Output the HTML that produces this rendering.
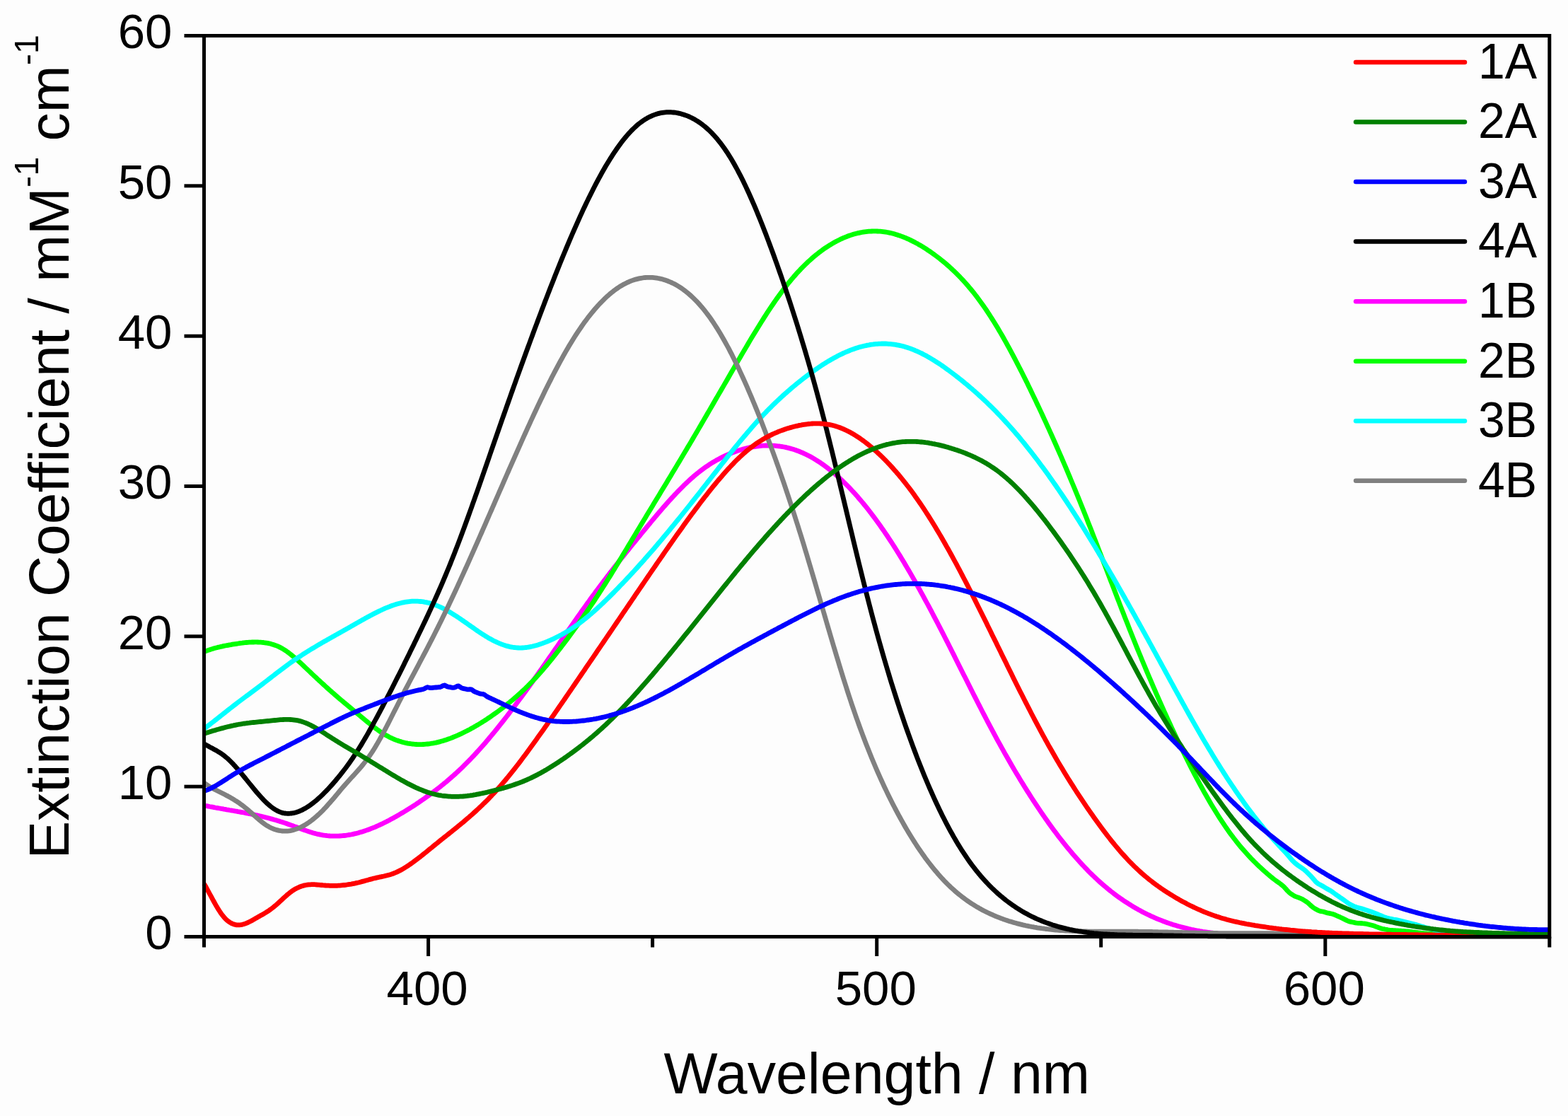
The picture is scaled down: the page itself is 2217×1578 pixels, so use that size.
<!DOCTYPE html>
<html lang="en"><head><meta charset="utf-8"><title>Extinction Coefficient vs Wavelength</title>
<style>html,body{margin:0;padding:0;background:#fdfdfd;}body{width:2217px;height:1578px;overflow:hidden;}svg{display:block;}text{font-family:"Liberation Sans",Arial,Helvetica,sans-serif;fill:#000;}</style></head><body>
<svg xmlns="http://www.w3.org/2000/svg" width="2217" height="1578" viewBox="0 0 2217 1578">
<rect width="2217" height="1578" fill="#fdfdfd"/>
<g fill="none" stroke-width="6.8" stroke-linejoin="round" stroke-linecap="butt">
<path d="M288.5,1138.8 290.5,1139.3 292.5,1139.7 294.5,1140.1 296.5,1140.5 298.5,1140.8 300.5,1141.2 302.5,1141.6 304.5,1142.0 306.5,1142.3 308.5,1142.7 310.5,1143.0 312.5,1143.4 314.5,1143.7 316.5,1144.1 318.5,1144.4 320.5,1144.8 322.5,1145.1 324.5,1145.5 326.5,1145.8 328.5,1146.2 330.5,1146.5 332.5,1146.9 334.5,1147.2 336.5,1147.6 338.5,1147.9 340.5,1148.3 342.5,1148.7 344.5,1149.0 346.5,1149.4 348.5,1149.8 350.5,1150.2 352.5,1150.6 354.5,1151.0 356.5,1151.4 358.5,1151.8 360.5,1152.2 362.5,1152.7 364.5,1153.1 366.5,1153.6 368.5,1154.0 370.5,1154.5 372.5,1155.0 374.5,1155.5 376.5,1156.0 378.5,1156.5 380.5,1157.0 382.5,1157.6 384.5,1158.1 386.5,1158.7 388.5,1159.3 390.5,1159.8 392.5,1160.4 394.5,1161.0 396.5,1161.7 398.5,1162.3 400.5,1162.9 402.5,1163.6 404.5,1164.3 406.5,1165.0 408.5,1165.7 410.5,1166.4 412.5,1167.1 414.5,1167.8 416.5,1168.6 418.5,1169.3 420.5,1170.0 422.5,1170.8 424.5,1171.5 426.5,1172.3 428.5,1173.0 430.5,1173.7 432.5,1174.4 434.5,1175.1 436.5,1175.8 438.5,1176.4 440.5,1177.1 442.5,1177.7 444.5,1178.2 446.5,1178.8 448.5,1179.3 450.5,1179.7 452.5,1180.1 454.5,1180.5 456.5,1180.9 458.5,1181.2 460.5,1181.4 462.5,1181.7 464.5,1181.8 466.5,1182.0 468.5,1182.1 470.5,1182.2 472.5,1182.2 474.5,1182.2 476.5,1182.2 478.5,1182.1 480.5,1182.0 482.5,1181.9 484.5,1181.7 486.5,1181.5 488.5,1181.3 490.5,1181.0 492.5,1180.7 494.5,1180.3 496.5,1180.0 498.5,1179.6 500.5,1179.1 502.5,1178.7 504.5,1178.2 506.5,1177.7 508.5,1177.1 510.5,1176.5 512.5,1175.9 514.5,1175.3 516.5,1174.6 518.5,1173.9 520.5,1173.2 522.5,1172.5 524.5,1171.7 526.5,1170.9 528.5,1170.1 530.5,1169.3 532.5,1168.4 534.5,1167.5 536.5,1166.6 538.5,1165.7 540.5,1164.8 542.5,1163.8 544.5,1162.8 546.5,1161.8 548.5,1160.7 550.5,1159.7 552.5,1158.6 554.5,1157.5 556.5,1156.4 558.5,1155.3 560.5,1154.2 562.5,1153.1 564.5,1151.9 566.5,1150.7 568.5,1149.5 570.5,1148.3 572.5,1147.1 574.5,1145.9 576.5,1144.6 578.5,1143.4 580.5,1142.1 582.5,1140.9 584.5,1139.6 586.5,1138.3 588.5,1137.0 590.5,1135.6 592.5,1134.3 594.5,1132.9 596.5,1131.5 598.5,1130.2 600.5,1128.8 602.5,1127.3 604.5,1125.9 606.5,1124.5 608.5,1123.0 610.5,1121.5 612.5,1120.0 614.5,1118.5 616.5,1117.0 618.5,1115.4 620.5,1113.9 622.5,1112.3 624.5,1110.7 626.5,1109.1 628.5,1107.4 630.5,1105.8 632.5,1104.1 634.5,1102.4 636.5,1100.7 638.5,1098.9 640.5,1097.2 642.5,1095.4 644.5,1093.6 646.5,1091.7 648.5,1089.9 650.5,1088.0 652.5,1086.1 654.5,1084.2 656.5,1082.2 658.5,1080.2 660.5,1078.2 662.5,1076.2 664.5,1074.1 666.5,1072.0 668.5,1069.9 670.5,1067.8 672.5,1065.6 674.5,1063.4 676.5,1061.2 678.5,1059.0 680.5,1056.8 682.5,1054.5 684.5,1052.2 686.5,1049.9 688.5,1047.6 690.5,1045.2 692.5,1042.8 694.5,1040.4 696.5,1038.0 698.5,1035.6 700.5,1033.1 702.5,1030.7 704.5,1028.2 706.5,1025.7 708.5,1023.2 710.5,1020.6 712.5,1018.1 714.5,1015.5 716.5,1013.0 718.5,1010.4 720.5,1007.8 722.5,1005.1 724.5,1002.5 726.5,999.8 728.5,997.2 730.5,994.5 732.5,991.8 734.5,989.1 736.5,986.4 738.5,983.7 740.5,981.0 742.5,978.2 744.5,975.5 746.5,972.7 748.5,969.9 750.5,967.2 752.5,964.4 754.5,961.6 756.5,958.8 758.5,956.0 760.5,953.1 762.5,950.3 764.5,947.5 766.5,944.6 768.5,941.8 770.5,938.9 772.5,936.1 774.5,933.2 776.5,930.3 778.5,927.5 780.5,924.6 782.5,921.7 784.5,918.8 786.5,916.0 788.5,913.1 790.5,910.2 792.5,907.3 794.5,904.4 796.5,901.5 798.5,898.6 800.5,895.8 802.5,892.9 804.5,890.0 806.5,887.1 808.5,884.3 810.5,881.4 812.5,878.5 814.5,875.7 816.5,872.8 818.5,870.0 820.5,867.2 822.5,864.3 824.5,861.5 826.5,858.7 828.5,855.9 830.5,853.1 832.5,850.4 834.5,847.6 836.5,844.8 838.5,842.1 840.5,839.4 842.5,836.6 844.5,833.9 846.5,831.2 848.5,828.6 850.5,825.9 852.5,823.2 854.5,820.6 856.5,818.0 858.5,815.3 860.5,812.7 862.5,810.1 864.5,807.5 866.5,805.0 868.5,802.4 870.5,799.8 872.5,797.3 874.5,794.7 876.5,792.2 878.5,789.7 880.5,787.2 882.5,784.6 884.5,782.1 886.5,779.6 888.5,777.2 890.5,774.7 892.5,772.2 894.5,769.7 896.5,767.3 898.5,764.8 900.5,762.4 902.5,759.9 904.5,757.5 906.5,755.0 908.5,752.6 910.5,750.1 912.5,747.7 914.5,745.3 916.5,742.9 918.5,740.5 920.5,738.0 922.5,735.6 924.5,733.3 926.5,730.9 928.5,728.5 930.5,726.1 932.5,723.8 934.5,721.5 936.5,719.1 938.5,716.8 940.5,714.6 942.5,712.3 944.5,710.0 946.5,707.8 948.5,705.6 950.5,703.4 952.5,701.3 954.5,699.1 956.5,697.0 958.5,694.9 960.5,692.8 962.5,690.8 964.5,688.8 966.5,686.8 968.5,684.9 970.5,683.0 972.5,681.1 974.5,679.2 976.5,677.4 978.5,675.7 980.5,673.9 982.5,672.2 984.5,670.5 986.5,668.9 988.5,667.3 990.5,665.8 992.5,664.3 994.5,662.8 996.5,661.3 998.5,659.9 1000.5,658.6 1002.5,657.2 1004.5,655.9 1006.5,654.7 1008.5,653.4 1010.5,652.3 1012.5,651.1 1014.5,650.0 1016.5,648.9 1018.5,647.8 1020.5,646.8 1022.5,645.8 1024.5,644.8 1026.5,643.9 1028.5,643.0 1030.5,642.1 1032.5,641.3 1034.5,640.5 1036.5,639.7 1038.5,639.0 1040.5,638.3 1042.5,637.6 1044.5,636.9 1046.5,636.3 1048.5,635.7 1050.5,635.1 1052.5,634.6 1054.5,634.1 1056.5,633.6 1058.5,633.1 1060.5,632.7 1062.5,632.3 1064.5,632.0 1066.5,631.6 1068.5,631.3 1070.5,631.0 1072.5,630.8 1074.5,630.6 1076.5,630.4 1078.5,630.2 1080.5,630.1 1082.5,630.0 1084.5,630.0 1086.5,630.0 1088.5,630.0 1090.5,630.0 1092.5,630.1 1094.5,630.2 1096.5,630.4 1098.5,630.6 1100.5,630.8 1102.5,631.0 1104.5,631.3 1106.5,631.7 1108.5,632.0 1110.5,632.4 1112.5,632.9 1114.5,633.3 1116.5,633.9 1118.5,634.4 1120.5,635.0 1122.5,635.6 1124.5,636.3 1126.5,637.0 1128.5,637.7 1130.5,638.5 1132.5,639.3 1134.5,640.2 1136.5,641.1 1138.5,642.0 1140.5,643.0 1142.5,644.0 1144.5,645.0 1146.5,646.1 1148.5,647.2 1150.5,648.4 1152.5,649.6 1154.5,650.8 1156.5,652.1 1158.5,653.4 1160.5,654.7 1162.5,656.1 1164.5,657.5 1166.5,659.0 1168.5,660.5 1170.5,662.0 1172.5,663.6 1174.5,665.2 1176.5,666.8 1178.5,668.5 1180.5,670.2 1182.5,671.9 1184.5,673.7 1186.5,675.5 1188.5,677.4 1190.5,679.3 1192.5,681.2 1194.5,683.1 1196.5,685.1 1198.5,687.2 1200.5,689.2 1202.5,691.3 1204.5,693.5 1206.5,695.6 1208.5,697.8 1210.5,700.1 1212.5,702.3 1214.5,704.7 1216.5,707.0 1218.5,709.4 1220.5,711.8 1222.5,714.2 1224.5,716.7 1226.5,719.2 1228.5,721.8 1230.5,724.3 1232.5,727.0 1234.5,729.6 1236.5,732.3 1238.5,735.0 1240.5,737.7 1242.5,740.5 1244.5,743.3 1246.5,746.2 1248.5,749.0 1250.5,751.9 1252.5,754.9 1254.5,757.8 1256.5,760.8 1258.5,763.9 1260.5,766.9 1262.5,770.0 1264.5,773.1 1266.5,776.3 1268.5,779.5 1270.5,782.7 1272.5,785.9 1274.5,789.2 1276.5,792.5 1278.5,795.8 1280.5,799.2 1282.5,802.6 1284.5,806.0 1286.5,809.4 1288.5,812.9 1290.5,816.4 1292.5,819.9 1294.5,823.4 1296.5,827.0 1298.5,830.5 1300.5,834.1 1302.5,837.8 1304.5,841.4 1306.5,845.1 1308.5,848.8 1310.5,852.5 1312.5,856.2 1314.5,859.9 1316.5,863.7 1318.5,867.5 1320.5,871.3 1322.5,875.1 1324.5,878.9 1326.5,882.8 1328.5,886.6 1330.5,890.5 1332.5,894.4 1334.5,898.3 1336.5,902.2 1338.5,906.1 1340.5,910.1 1342.5,914.0 1344.5,918.0 1346.5,922.0 1348.5,925.9 1350.5,929.9 1352.5,933.9 1354.5,937.9 1356.5,941.9 1358.5,945.9 1360.5,949.9 1362.5,953.9 1364.5,957.8 1366.5,961.8 1368.5,965.8 1370.5,969.8 1372.5,973.8 1374.5,977.7 1376.5,981.7 1378.5,985.6 1380.5,989.6 1382.5,993.5 1384.5,997.4 1386.5,1001.3 1388.5,1005.2 1390.5,1009.1 1392.5,1012.9 1394.5,1016.8 1396.5,1020.6 1398.5,1024.4 1400.5,1028.2 1402.5,1031.9 1404.5,1035.7 1406.5,1039.4 1408.5,1043.1 1410.5,1046.8 1412.5,1050.4 1414.5,1054.0 1416.5,1057.6 1418.5,1061.2 1420.5,1064.8 1422.5,1068.3 1424.5,1071.8 1426.5,1075.3 1428.5,1078.8 1430.5,1082.2 1432.5,1085.7 1434.5,1089.1 1436.5,1092.4 1438.5,1095.8 1440.5,1099.1 1442.5,1102.4 1444.5,1105.7 1446.5,1108.9 1448.5,1112.2 1450.5,1115.4 1452.5,1118.6 1454.5,1121.7 1456.5,1124.9 1458.5,1128.0 1460.5,1131.1 1462.5,1134.1 1464.5,1137.2 1466.5,1140.2 1468.5,1143.2 1470.5,1146.1 1472.5,1149.1 1474.5,1152.0 1476.5,1154.9 1478.5,1157.8 1480.5,1160.6 1482.5,1163.4 1484.5,1166.2 1486.5,1169.0 1488.5,1171.7 1490.5,1174.4 1492.5,1177.1 1494.5,1179.7 1496.5,1182.4 1498.5,1185.0 1500.5,1187.5 1502.5,1190.1 1504.5,1192.6 1506.5,1195.1 1508.5,1197.6 1510.5,1200.0 1512.5,1202.4 1514.5,1204.8 1516.5,1207.2 1518.5,1209.5 1520.5,1211.8 1522.5,1214.1 1524.5,1216.3 1526.5,1218.6 1528.5,1220.7 1530.5,1222.9 1532.5,1225.0 1534.5,1227.1 1536.5,1229.2 1538.5,1231.3 1540.5,1233.3 1542.5,1235.3 1544.5,1237.2 1546.5,1239.1 1548.5,1241.0 1550.5,1242.9 1552.5,1244.8 1554.5,1246.6 1556.5,1248.4 1558.5,1250.1 1560.5,1251.8 1562.5,1253.5 1564.5,1255.2 1566.5,1256.9 1568.5,1258.5 1570.5,1260.1 1572.5,1261.6 1574.5,1263.2 1576.5,1264.7 1578.5,1266.2 1580.5,1267.7 1582.5,1269.1 1584.5,1270.5 1586.5,1271.9 1588.5,1273.3 1590.5,1274.6 1592.5,1275.9 1594.5,1277.2 1596.5,1278.5 1598.5,1279.7 1600.5,1281.0 1602.5,1282.2 1604.5,1283.3 1606.5,1284.5 1608.5,1285.6 1610.5,1286.8 1612.5,1287.8 1614.5,1288.9 1616.5,1290.0 1618.5,1291.0 1620.5,1292.0 1622.5,1293.0 1624.5,1293.9 1626.5,1294.9 1628.5,1295.8 1630.5,1296.7 1632.5,1297.6 1634.5,1298.5 1636.5,1299.3 1638.5,1300.1 1640.5,1300.9 1642.5,1301.7 1644.5,1302.5 1646.5,1303.2 1648.5,1304.0 1650.5,1304.7 1652.5,1305.4 1654.5,1306.1 1656.5,1306.7 1658.5,1307.4 1660.5,1308.0 1662.5,1308.6 1664.5,1309.2 1666.5,1309.8 1668.5,1310.3 1670.5,1310.9 1672.5,1311.4 1674.5,1311.9 1676.5,1312.4 1678.5,1312.9 1680.5,1313.4 1682.5,1313.8 1684.5,1314.3 1686.5,1314.7 1688.5,1315.1 1690.5,1315.5 1692.5,1315.9 1694.5,1316.2 1696.5,1316.6 1698.5,1316.9 1700.5,1317.3 1702.5,1317.6 1704.5,1317.9 1706.5,1318.2 1708.5,1318.5 1710.5,1318.7 1712.5,1319.0 1714.5,1319.2 1716.5,1319.5 1718.5,1319.7 1720.5,1319.9 1722.5,1320.1 1724.5,1320.3 1726.5,1320.5 1728.5,1320.7 1730.5,1320.9 1732.5,1321.0 1734.5,1321.2 1736.5,1321.3 1738.5,1321.5 1740.5,1321.6 1742.5,1321.7 1744.5,1321.9 1746.5,1322.0 1748.5,1322.1 1750.5,1322.2 1752.5,1322.3 1754.5,1322.4 1756.5,1322.5 1758.5,1322.5 1760.5,1322.6 1762.5,1322.7 1764.5,1322.8 1766.5,1322.8 1768.5,1322.9 1770.5,1322.9 1772.5,1323.0 1774.5,1323.0 1776.5,1323.1 1778.5,1323.1 1780.5,1323.1 1782.5,1323.2 1784.5,1323.2 1786.5,1323.2 1788.5,1323.3 1790.5,1323.3 1792.5,1323.3 1794.5,1323.3 1796.5,1323.3 1798.5,1323.3 1800.5,1323.4 1802.5,1323.4 1804.5,1323.4 1806.5,1323.4 1808.5,1323.4 1810.5,1323.4 1812.5,1323.4 1814.5,1323.4 1816.5,1323.4 1818.5,1323.4 1820.5,1323.4 1822.5,1323.4 1824.5,1323.4 1826.5,1323.4 1828.5,1323.4 1830.5,1323.4 1832.5,1323.4 1834.5,1323.4 1836.5,1323.4 1838.5,1323.4 1840.5,1323.4 1842.5,1323.4 1844.5,1323.4 1846.5,1323.4 1848.5,1323.4 1850.5,1323.4 1852.5,1323.4 1854.5,1323.4 1856.5,1323.4 1858.5,1323.4 1860.5,1323.4 1862.5,1323.4 1864.5,1323.4 1866.5,1323.3 1868.5,1323.3 1870.5,1323.3 1872.5,1323.3 1874.5,1323.3 1876.5,1323.3 1878.5,1323.3 1880.5,1323.3 1882.5,1323.3 1884.5,1323.3 1886.5,1323.3 1888.5,1323.3 1890.5,1323.3 1892.5,1323.3 1894.5,1323.3 1896.5,1323.3 1898.5,1323.3 1900.5,1323.3 1902.5,1323.3 1904.5,1323.3 1906.5,1323.3 1908.5,1323.3 1910.5,1323.3 1912.5,1323.3 1914.5,1323.3 1916.5,1323.3 1918.5,1323.3 1920.5,1323.3 1922.5,1323.3 1924.5,1323.3 1926.5,1323.3 1928.5,1323.3 1930.5,1323.3 1932.5,1323.3 1934.5,1323.3 1936.5,1323.3 1938.5,1323.3 1940.5,1323.3 1942.5,1323.3 1944.5,1323.3 1946.5,1323.3 1948.5,1323.3 1950.5,1323.3 1952.5,1323.3 1954.5,1323.4 1956.5,1323.4 1958.5,1323.4 1960.5,1323.4 1962.5,1323.4 1964.5,1323.4 1966.5,1323.4 1968.5,1323.4 1970.5,1323.4 1972.5,1323.4 1974.5,1323.4 1976.5,1323.4 1978.5,1323.4 1980.5,1323.4 1982.5,1323.4 1984.5,1323.4 1986.5,1323.4 1988.5,1323.4 1990.5,1323.4 1992.5,1323.4 1994.5,1323.4 1996.5,1323.3 1998.5,1323.3 2000.5,1323.3 2002.5,1323.3 2004.5,1323.3 2006.5,1323.3 2008.5,1323.3 2010.5,1323.3 2012.5,1323.3 2014.5,1323.3 2016.5,1323.3 2018.5,1323.3 2020.5,1323.3 2022.5,1323.3 2024.5,1323.3 2026.5,1323.3 2028.5,1323.3 2030.5,1323.3 2032.5,1323.3 2034.5,1323.3 2036.5,1323.3 2038.5,1323.3 2040.5,1323.3 2042.5,1323.3 2044.5,1323.3 2046.5,1323.3 2048.5,1323.3 2050.5,1323.3 2052.5,1323.3 2054.5,1323.3 2056.5,1323.3 2058.5,1323.3 2060.5,1323.3 2062.5,1323.3 2064.5,1323.3 2066.5,1323.3 2068.5,1323.3 2070.5,1323.3 2072.5,1323.3 2074.5,1323.3 2076.5,1323.3 2078.5,1323.3 2080.5,1323.3 2082.5,1323.3 2084.5,1323.3 2086.5,1323.3 2088.5,1323.3 2090.5,1323.3 2092.5,1323.3 2094.5,1323.3 2096.5,1323.3 2098.5,1323.3 2100.5,1323.3 2102.5,1323.3 2104.5,1323.3 2106.5,1323.3 2108.5,1323.3 2110.5,1323.3 2112.5,1323.3 2114.5,1323.3 2116.5,1323.3 2118.5,1323.3 2120.5,1323.3 2122.5,1323.3 2124.5,1323.3 2126.5,1323.3 2128.5,1323.3 2130.5,1323.3 2132.5,1323.3 2134.5,1323.3 2136.5,1323.3 2138.5,1323.3 2140.5,1323.3 2142.5,1323.3 2144.5,1323.3 2146.5,1323.3 2148.5,1323.3 2150.5,1323.3 2152.5,1323.3 2154.5,1323.3 2156.5,1323.3 2158.5,1323.3 2160.5,1323.3 2162.5,1323.3 2164.5,1323.3 2166.5,1323.3 2168.5,1323.3 2170.5,1323.3 2172.5,1323.3 2174.5,1323.3 2176.5,1323.3 2178.5,1323.3 2180.5,1323.3 2182.5,1323.3 2184.5,1323.3 2186.5,1323.3 2188.5,1323.3 2190.5,1323.3" stroke="#ff00ff"/>
<path d="M288.5,921.7 290.5,920.9 292.5,920.1 294.5,919.4 296.5,918.7 298.5,918.1 300.5,917.4 302.5,916.8 304.5,916.3 306.5,915.8 308.5,915.2 310.5,914.8 312.5,914.3 314.5,913.9 316.5,913.4 318.5,913.0 320.5,912.7 322.5,912.3 324.5,911.9 326.5,911.6 328.5,911.2 330.5,910.9 332.5,910.6 334.5,910.3 336.5,910.0 338.5,909.7 340.5,909.4 342.5,909.2 344.5,908.9 346.5,908.7 348.5,908.5 350.5,908.4 352.5,908.2 354.5,908.1 356.5,908.0 358.5,908.0 360.5,907.9 362.5,907.9 364.5,908.0 366.5,908.1 368.5,908.2 370.5,908.3 372.5,908.5 374.5,908.8 376.5,909.1 378.5,909.4 380.5,909.8 382.5,910.3 384.5,910.9 386.5,911.5 388.5,912.2 390.5,912.9 392.5,913.7 394.5,914.6 396.5,915.6 398.5,916.7 400.5,917.9 402.5,919.1 404.5,920.4 406.5,921.9 408.5,923.3 410.5,924.9 412.5,926.5 414.5,928.1 416.5,929.8 418.5,931.6 420.5,933.3 422.5,935.2 424.5,937.0 426.5,938.9 428.5,940.8 430.5,942.7 432.5,944.6 434.5,946.5 436.5,948.4 438.5,950.3 440.5,952.2 442.5,954.1 444.5,956.0 446.5,957.8 448.5,959.7 450.5,961.6 452.5,963.4 454.5,965.3 456.5,967.1 458.5,968.9 460.5,970.8 462.5,972.6 464.5,974.4 466.5,976.2 468.5,977.9 470.5,979.7 472.5,981.4 474.5,983.2 476.5,984.9 478.5,986.6 480.5,988.3 482.5,990.0 484.5,991.7 486.5,993.4 488.5,995.0 490.5,996.7 492.5,998.4 494.5,1000.0 496.5,1001.7 498.5,1003.3 500.5,1005.0 502.5,1006.7 504.5,1008.3 506.5,1010.0 508.5,1011.7 510.5,1013.3 512.5,1015.0 514.5,1016.7 516.5,1018.3 518.5,1020.0 520.5,1021.6 522.5,1023.2 524.5,1024.8 526.5,1026.4 528.5,1027.9 530.5,1029.5 532.5,1030.9 534.5,1032.4 536.5,1033.8 538.5,1035.1 540.5,1036.4 542.5,1037.7 544.5,1038.9 546.5,1040.0 548.5,1041.1 550.5,1042.2 552.5,1043.2 554.5,1044.1 556.5,1045.0 558.5,1045.8 560.5,1046.6 562.5,1047.3 564.5,1048.0 566.5,1048.6 568.5,1049.2 570.5,1049.7 572.5,1050.2 574.5,1050.7 576.5,1051.1 578.5,1051.4 580.5,1051.7 582.5,1052.0 584.5,1052.2 586.5,1052.4 588.5,1052.5 590.5,1052.6 592.5,1052.6 594.5,1052.6 596.5,1052.6 598.5,1052.5 600.5,1052.4 602.5,1052.2 604.5,1052.0 606.5,1051.8 608.5,1051.5 610.5,1051.2 612.5,1050.9 614.5,1050.5 616.5,1050.1 618.5,1049.6 620.5,1049.1 622.5,1048.6 624.5,1048.0 626.5,1047.5 628.5,1046.8 630.5,1046.2 632.5,1045.5 634.5,1044.8 636.5,1044.1 638.5,1043.3 640.5,1042.5 642.5,1041.7 644.5,1040.9 646.5,1040.0 648.5,1039.1 650.5,1038.2 652.5,1037.3 654.5,1036.3 656.5,1035.3 658.5,1034.3 660.5,1033.3 662.5,1032.2 664.5,1031.2 666.5,1030.1 668.5,1029.0 670.5,1027.8 672.5,1026.7 674.5,1025.5 676.5,1024.3 678.5,1023.1 680.5,1021.9 682.5,1020.6 684.5,1019.4 686.5,1018.1 688.5,1016.8 690.5,1015.4 692.5,1014.1 694.5,1012.7 696.5,1011.3 698.5,1009.9 700.5,1008.5 702.5,1007.1 704.5,1005.6 706.5,1004.1 708.5,1002.6 710.5,1001.1 712.5,999.5 714.5,997.9 716.5,996.4 718.5,994.7 720.5,993.1 722.5,991.4 724.5,989.8 726.5,988.1 728.5,986.3 730.5,984.6 732.5,982.8 734.5,981.0 736.5,979.2 738.5,977.3 740.5,975.5 742.5,973.6 744.5,971.6 746.5,969.7 748.5,967.7 750.5,965.6 752.5,963.6 754.5,961.5 756.5,959.4 758.5,957.2 760.5,955.0 762.5,952.8 764.5,950.5 766.5,948.3 768.5,945.9 770.5,943.6 772.5,941.2 774.5,938.8 776.5,936.4 778.5,933.9 780.5,931.5 782.5,929.0 784.5,926.4 786.5,923.9 788.5,921.3 790.5,918.7 792.5,916.1 794.5,913.5 796.5,910.9 798.5,908.2 800.5,905.6 802.5,902.9 804.5,900.2 806.5,897.5 808.5,894.8 810.5,892.0 812.5,889.3 814.5,886.5 816.5,883.7 818.5,880.9 820.5,878.1 822.5,875.3 824.5,872.4 826.5,869.5 828.5,866.7 830.5,863.8 832.5,860.8 834.5,857.9 836.5,854.9 838.5,852.0 840.5,849.0 842.5,845.9 844.5,842.9 846.5,839.8 848.5,836.7 850.5,833.6 852.5,830.5 854.5,827.4 856.5,824.2 858.5,821.0 860.5,817.8 862.5,814.6 864.5,811.4 866.5,808.1 868.5,804.9 870.5,801.6 872.5,798.3 874.5,795.0 876.5,791.7 878.5,788.4 880.5,785.1 882.5,781.8 884.5,778.5 886.5,775.2 888.5,771.8 890.5,768.5 892.5,765.2 894.5,761.8 896.5,758.5 898.5,755.1 900.5,751.8 902.5,748.5 904.5,745.1 906.5,741.8 908.5,738.5 910.5,735.2 912.5,731.9 914.5,728.6 916.5,725.3 918.5,722.0 920.5,718.7 922.5,715.4 924.5,712.1 926.5,708.8 928.5,705.5 930.5,702.2 932.5,698.9 934.5,695.6 936.5,692.3 938.5,689.0 940.5,685.7 942.5,682.4 944.5,679.0 946.5,675.7 948.5,672.4 950.5,669.1 952.5,665.8 954.5,662.5 956.5,659.1 958.5,655.8 960.5,652.5 962.5,649.1 964.5,645.8 966.5,642.4 968.5,639.1 970.5,635.7 972.5,632.3 974.5,629.0 976.5,625.6 978.5,622.2 980.5,618.8 982.5,615.4 984.5,612.0 986.5,608.6 988.5,605.1 990.5,601.7 992.5,598.3 994.5,594.9 996.5,591.4 998.5,588.0 1000.5,584.5 1002.5,581.1 1004.5,577.6 1006.5,574.2 1008.5,570.7 1010.5,567.3 1012.5,563.8 1014.5,560.4 1016.5,556.9 1018.5,553.5 1020.5,550.0 1022.5,546.6 1024.5,543.1 1026.5,539.7 1028.5,536.2 1030.5,532.7 1032.5,529.3 1034.5,525.8 1036.5,522.4 1038.5,519.0 1040.5,515.5 1042.5,512.1 1044.5,508.6 1046.5,505.2 1048.5,501.8 1050.5,498.4 1052.5,495.0 1054.5,491.6 1056.5,488.2 1058.5,484.8 1060.5,481.4 1062.5,478.1 1064.5,474.8 1066.5,471.5 1068.5,468.2 1070.5,464.9 1072.5,461.7 1074.5,458.4 1076.5,455.2 1078.5,452.1 1080.5,448.9 1082.5,445.8 1084.5,442.7 1086.5,439.7 1088.5,436.6 1090.5,433.6 1092.5,430.7 1094.5,427.8 1096.5,424.9 1098.5,422.0 1100.5,419.2 1102.5,416.4 1104.5,413.7 1106.5,411.0 1108.5,408.4 1110.5,405.8 1112.5,403.2 1114.5,400.7 1116.5,398.3 1118.5,395.8 1120.5,393.5 1122.5,391.1 1124.5,388.9 1126.5,386.6 1128.5,384.4 1130.5,382.3 1132.5,380.2 1134.5,378.1 1136.5,376.1 1138.5,374.1 1140.5,372.2 1142.5,370.3 1144.5,368.5 1146.5,366.7 1148.5,364.9 1150.5,363.2 1152.5,361.5 1154.5,359.9 1156.5,358.3 1158.5,356.7 1160.5,355.2 1162.5,353.8 1164.5,352.3 1166.5,350.9 1168.5,349.6 1170.5,348.3 1172.5,347.0 1174.5,345.8 1176.5,344.6 1178.5,343.4 1180.5,342.3 1182.5,341.2 1184.5,340.2 1186.5,339.2 1188.5,338.2 1190.5,337.3 1192.5,336.4 1194.5,335.6 1196.5,334.8 1198.5,334.0 1200.5,333.3 1202.5,332.6 1204.5,331.9 1206.5,331.3 1208.5,330.7 1210.5,330.2 1212.5,329.7 1214.5,329.3 1216.5,328.9 1218.5,328.5 1220.5,328.1 1222.5,327.8 1224.5,327.6 1226.5,327.4 1228.5,327.2 1230.5,327.1 1232.5,327.0 1234.5,326.9 1236.5,326.9 1238.5,326.9 1240.5,327.0 1242.5,327.1 1244.5,327.2 1246.5,327.4 1248.5,327.6 1250.5,327.9 1252.5,328.2 1254.5,328.5 1256.5,328.9 1258.5,329.3 1260.5,329.8 1262.5,330.3 1264.5,330.8 1266.5,331.4 1268.5,332.0 1270.5,332.7 1272.5,333.3 1274.5,334.1 1276.5,334.8 1278.5,335.6 1280.5,336.4 1282.5,337.3 1284.5,338.2 1286.5,339.1 1288.5,340.1 1290.5,341.1 1292.5,342.1 1294.5,343.2 1296.5,344.2 1298.5,345.4 1300.5,346.5 1302.5,347.7 1304.5,348.9 1306.5,350.2 1308.5,351.4 1310.5,352.7 1312.5,354.1 1314.5,355.4 1316.5,356.8 1318.5,358.2 1320.5,359.6 1322.5,361.1 1324.5,362.6 1326.5,364.1 1328.5,365.7 1330.5,367.3 1332.5,368.9 1334.5,370.5 1336.5,372.2 1338.5,373.9 1340.5,375.7 1342.5,377.4 1344.5,379.3 1346.5,381.1 1348.5,383.0 1350.5,384.9 1352.5,386.9 1354.5,388.9 1356.5,390.9 1358.5,393.0 1360.5,395.1 1362.5,397.3 1364.5,399.5 1366.5,401.8 1368.5,404.1 1370.5,406.4 1372.5,408.8 1374.5,411.2 1376.5,413.7 1378.5,416.3 1380.5,418.8 1382.5,421.5 1384.5,424.2 1386.5,426.9 1388.5,429.7 1390.5,432.5 1392.5,435.4 1394.5,438.3 1396.5,441.3 1398.5,444.4 1400.5,447.5 1402.5,450.6 1404.5,453.8 1406.5,457.0 1408.5,460.3 1410.5,463.6 1412.5,467.0 1414.5,470.4 1416.5,473.8 1418.5,477.3 1420.5,480.9 1422.5,484.4 1424.5,488.1 1426.5,491.7 1428.5,495.4 1430.5,499.1 1432.5,502.9 1434.5,506.7 1436.5,510.5 1438.5,514.3 1440.5,518.2 1442.5,522.1 1444.5,526.1 1446.5,530.0 1448.5,534.0 1450.5,538.1 1452.5,542.1 1454.5,546.2 1456.5,550.3 1458.5,554.4 1460.5,558.6 1462.5,562.7 1464.5,566.9 1466.5,571.2 1468.5,575.4 1470.5,579.6 1472.5,583.9 1474.5,588.2 1476.5,592.6 1478.5,596.9 1480.5,601.3 1482.5,605.7 1484.5,610.1 1486.5,614.5 1488.5,619.0 1490.5,623.5 1492.5,628.0 1494.5,632.5 1496.5,637.1 1498.5,641.6 1500.5,646.2 1502.5,650.9 1504.5,655.5 1506.5,660.2 1508.5,664.9 1510.5,669.6 1512.5,674.4 1514.5,679.2 1516.5,684.0 1518.5,688.8 1520.5,693.6 1522.5,698.5 1524.5,703.4 1526.5,708.3 1528.5,713.3 1530.5,718.3 1532.5,723.3 1534.5,728.3 1536.5,733.3 1538.5,738.4 1540.5,743.5 1542.5,748.6 1544.5,753.7 1546.5,758.9 1548.5,764.0 1550.5,769.2 1552.5,774.4 1554.5,779.6 1556.5,784.8 1558.5,790.0 1560.5,795.2 1562.5,800.4 1564.5,805.6 1566.5,810.8 1568.5,816.0 1570.5,821.2 1572.5,826.4 1574.5,831.6 1576.5,836.8 1578.5,842.0 1580.5,847.2 1582.5,852.4 1584.5,857.6 1586.5,862.7 1588.5,867.8 1590.5,873.0 1592.5,878.1 1594.5,883.1 1596.5,888.2 1598.5,893.2 1600.5,898.3 1602.5,903.2 1604.5,908.2 1606.5,913.2 1608.5,918.1 1610.5,923.0 1612.5,927.8 1614.5,932.7 1616.5,937.5 1618.5,942.3 1620.5,947.1 1622.5,951.8 1624.5,956.6 1626.5,961.2 1628.5,965.9 1630.5,970.6 1632.5,975.2 1634.5,979.8 1636.5,984.4 1638.5,988.9 1640.5,993.4 1642.5,997.9 1644.5,1002.4 1646.5,1006.8 1648.5,1011.2 1650.5,1015.6 1652.5,1020.0 1654.5,1024.3 1656.5,1028.6 1658.5,1032.9 1660.5,1037.2 1662.5,1041.4 1664.5,1045.6 1666.5,1049.8 1668.5,1053.9 1670.5,1058.1 1672.5,1062.1 1674.5,1066.2 1676.5,1070.2 1678.5,1074.3 1680.5,1078.2 1682.5,1082.2 1684.5,1086.1 1686.5,1090.0 1688.5,1093.8 1690.5,1097.6 1692.5,1101.4 1694.5,1105.2 1696.5,1108.9 1698.5,1112.5 1700.5,1116.2 1702.5,1119.8 1704.5,1123.3 1706.5,1126.8 1708.5,1130.3 1710.5,1133.8 1712.5,1137.2 1714.5,1140.5 1716.5,1143.8 1718.5,1147.1 1720.5,1150.3 1722.5,1153.5 1724.5,1156.6 1726.5,1159.7 1728.5,1162.7 1730.5,1165.7 1732.5,1168.6 1734.5,1171.5 1736.5,1174.4 1738.5,1177.2 1740.5,1179.9 1742.5,1182.6 1744.5,1185.2 1746.5,1187.8 1748.5,1190.3 1750.5,1192.8 1752.5,1195.3 1754.5,1197.7 1756.5,1200.0 1758.5,1202.3 1760.5,1204.6 1762.5,1206.8 1764.5,1209.0 1766.5,1211.2 1768.5,1213.3 1770.5,1215.3 1772.5,1217.4 1774.5,1219.4 1776.5,1221.3 1778.5,1223.3 1780.5,1225.2 1782.5,1227.0 1784.5,1228.9 1786.5,1230.7 1788.5,1232.5 1790.5,1234.2 1792.5,1236.0 1794.5,1237.7 1796.5,1239.4 1798.5,1241.0 1800.5,1242.6 1802.5,1244.1 1804.5,1245.6 1806.5,1247.0 1808.5,1248.4 1810.5,1249.9 1812.5,1251.5 1814.5,1253.2 1816.5,1255.2 1818.5,1257.4 1820.5,1259.7 1822.5,1261.7 1824.5,1263.3 1826.5,1264.6 1828.5,1265.9 1830.5,1267.1 1832.5,1267.9 1834.5,1268.6 1836.5,1269.3 1838.5,1270.1 1840.5,1271.0 1842.5,1272.1 1844.5,1273.3 1846.5,1274.6 1848.5,1276.0 1850.5,1277.7 1852.5,1279.6 1854.5,1281.4 1856.5,1283.0 1858.5,1284.3 1860.5,1285.5 1862.5,1286.7 1864.5,1287.6 1866.5,1288.3 1868.5,1288.7 1870.5,1289.0 1872.5,1289.6 1874.5,1290.2 1876.5,1290.8 1878.5,1291.2 1880.5,1291.6 1882.5,1292.0 1884.5,1292.5 1886.5,1293.2 1888.5,1294.1 1890.5,1295.0 1892.5,1295.8 1894.5,1296.7 1896.5,1297.7 1898.5,1298.6 1900.5,1299.6 1902.5,1300.6 1904.5,1301.6 1906.5,1302.5 1908.5,1303.2 1910.5,1303.6 1912.5,1304.0 1914.5,1304.4 1916.5,1304.8 1918.5,1305.1 1920.5,1305.3 1922.5,1305.4 1924.5,1305.5 1926.5,1305.7 1928.5,1305.8 1930.5,1306.1 1932.5,1306.5 1934.5,1307.0 1936.5,1307.5 1938.5,1308.0 1940.5,1308.5 1942.5,1309.1 1944.5,1309.8 1946.5,1310.6 1948.5,1311.3 1950.5,1312.1 1952.5,1312.7 1954.5,1313.3 1956.5,1313.7 1958.5,1314.1 1960.5,1314.4 1962.5,1314.8 1964.5,1315.1 1966.5,1315.3 1968.5,1315.4 1970.5,1315.6 1972.5,1315.7 1974.5,1315.8 1976.5,1315.9 1978.5,1316.1 1980.5,1316.2 1982.5,1316.3 1984.5,1316.4 1986.5,1316.6 1988.5,1316.8 1990.5,1317.0 1992.5,1317.2 1994.5,1317.5 1996.5,1317.7 1998.5,1318.0 2000.5,1318.2 2002.5,1318.5 2004.5,1318.7 2006.5,1319.0 2008.5,1319.2 2010.5,1319.4 2012.5,1319.6 2014.5,1319.8 2016.5,1319.9 2018.5,1320.1 2020.5,1320.2 2022.5,1320.4 2024.5,1320.5 2026.5,1320.7 2028.5,1320.8 2030.5,1320.9 2032.5,1321.0 2034.5,1321.1 2036.5,1321.2 2038.5,1321.3 2040.5,1321.4 2042.5,1321.4 2044.5,1321.5 2046.5,1321.6 2048.5,1321.7 2050.5,1321.7 2052.5,1321.8 2054.5,1321.8 2056.5,1321.9 2058.5,1321.9 2060.5,1322.0 2062.5,1322.0 2064.5,1322.1 2066.5,1322.1 2068.5,1322.1 2070.5,1322.2 2072.5,1322.2 2074.5,1322.2 2076.5,1322.3 2078.5,1322.3 2080.5,1322.3 2082.5,1322.4 2084.5,1322.4 2086.5,1322.4 2088.5,1322.5 2090.5,1322.5 2092.5,1322.5 2094.5,1322.6 2096.5,1322.6 2098.5,1322.6 2100.5,1322.7 2102.5,1322.7 2104.5,1322.7 2106.5,1322.8 2108.5,1322.8 2110.5,1322.9 2112.5,1322.9 2114.5,1322.9 2116.5,1323.0 2118.5,1323.0 2120.5,1323.0 2122.5,1323.1 2124.5,1323.1 2126.5,1323.1 2128.5,1323.2 2130.5,1323.2 2132.5,1323.2 2134.5,1323.3 2136.5,1323.3 2138.5,1323.3 2140.5,1323.4 2142.5,1323.4 2144.5,1323.4 2146.5,1323.4 2148.5,1323.5 2150.5,1323.5 2152.5,1323.5 2154.5,1323.5 2156.5,1323.5 2158.5,1323.5 2160.5,1323.5 2162.5,1323.5 2164.5,1323.5 2166.5,1323.5 2168.5,1323.5 2170.5,1323.5 2172.5,1323.5 2174.5,1323.5 2176.5,1323.5 2178.5,1323.5 2180.5,1323.5 2182.5,1323.4 2184.5,1323.4 2186.5,1323.4 2188.5,1323.3 2190.5,1323.3" stroke="#00ff00"/>
<path d="M288.5,1030.5 290.5,1029.0 292.5,1027.5 294.5,1026.0 296.5,1024.5 298.5,1022.9 300.5,1021.4 302.5,1019.8 304.5,1018.2 306.5,1016.7 308.5,1015.1 310.5,1013.5 312.5,1011.9 314.5,1010.3 316.5,1008.7 318.5,1007.2 320.5,1005.6 322.5,1004.0 324.5,1002.4 326.5,1000.9 328.5,999.3 330.5,997.7 332.5,996.2 334.5,994.7 336.5,993.1 338.5,991.6 340.5,990.1 342.5,988.6 344.5,987.1 346.5,985.6 348.5,984.1 350.5,982.7 352.5,981.2 354.5,979.7 356.5,978.2 358.5,976.7 360.5,975.2 362.5,973.7 364.5,972.2 366.5,970.7 368.5,969.2 370.5,967.7 372.5,966.2 374.5,964.6 376.5,963.1 378.5,961.6 380.5,960.0 382.5,958.5 384.5,956.9 386.5,955.4 388.5,953.8 390.5,952.3 392.5,950.7 394.5,949.2 396.5,947.7 398.5,946.2 400.5,944.7 402.5,943.2 404.5,941.7 406.5,940.2 408.5,938.8 410.5,937.3 412.5,935.9 414.5,934.5 416.5,933.1 418.5,931.8 420.5,930.4 422.5,929.1 424.5,927.8 426.5,926.5 428.5,925.2 430.5,923.9 432.5,922.6 434.5,921.4 436.5,920.1 438.5,918.9 440.5,917.7 442.5,916.5 444.5,915.3 446.5,914.1 448.5,912.9 450.5,911.7 452.5,910.6 454.5,909.4 456.5,908.2 458.5,907.1 460.5,906.0 462.5,904.8 464.5,903.7 466.5,902.6 468.5,901.4 470.5,900.3 472.5,899.2 474.5,898.1 476.5,896.9 478.5,895.8 480.5,894.7 482.5,893.6 484.5,892.4 486.5,891.3 488.5,890.2 490.5,889.1 492.5,887.9 494.5,886.8 496.5,885.6 498.5,884.5 500.5,883.3 502.5,882.2 504.5,881.1 506.5,879.9 508.5,878.8 510.5,877.7 512.5,876.5 514.5,875.4 516.5,874.3 518.5,873.2 520.5,872.1 522.5,871.1 524.5,870.0 526.5,868.9 528.5,867.9 530.5,866.9 532.5,865.9 534.5,864.9 536.5,863.9 538.5,863.0 540.5,862.0 542.5,861.1 544.5,860.2 546.5,859.4 548.5,858.6 550.5,857.8 552.5,857.0 554.5,856.3 556.5,855.6 558.5,854.9 560.5,854.3 562.5,853.7 564.5,853.2 566.5,852.7 568.5,852.2 570.5,851.8 572.5,851.4 574.5,851.1 576.5,850.8 578.5,850.6 580.5,850.4 582.5,850.2 584.5,850.1 586.5,850.1 588.5,850.1 590.5,850.2 592.5,850.3 594.5,850.5 596.5,850.7 598.5,850.9 600.5,851.3 602.5,851.6 604.5,852.1 606.5,852.5 608.5,853.1 610.5,853.7 612.5,854.3 614.5,855.0 616.5,855.8 618.5,856.6 620.5,857.5 622.5,858.4 624.5,859.3 626.5,860.3 628.5,861.3 630.5,862.4 632.5,863.5 634.5,864.7 636.5,865.8 638.5,867.1 640.5,868.3 642.5,869.6 644.5,870.8 646.5,872.2 648.5,873.5 650.5,874.8 652.5,876.2 654.5,877.6 656.5,879.0 658.5,880.4 660.5,881.8 662.5,883.2 664.5,884.6 666.5,886.0 668.5,887.4 670.5,888.8 672.5,890.2 674.5,891.6 676.5,893.0 678.5,894.3 680.5,895.7 682.5,897.0 684.5,898.2 686.5,899.5 688.5,900.7 690.5,901.9 692.5,903.0 694.5,904.1 696.5,905.2 698.5,906.2 700.5,907.2 702.5,908.1 704.5,909.0 706.5,909.9 708.5,910.7 710.5,911.4 712.5,912.1 714.5,912.8 716.5,913.4 718.5,913.9 720.5,914.4 722.5,914.8 724.5,915.2 726.5,915.5 728.5,915.7 730.5,915.9 732.5,916.0 734.5,916.1 736.5,916.1 738.5,916.0 740.5,915.9 742.5,915.7 744.5,915.5 746.5,915.2 748.5,914.8 750.5,914.4 752.5,914.0 754.5,913.5 756.5,913.0 758.5,912.5 760.5,911.9 762.5,911.2 764.5,910.6 766.5,909.9 768.5,909.1 770.5,908.4 772.5,907.6 774.5,906.8 776.5,905.9 778.5,905.1 780.5,904.2 782.5,903.3 784.5,902.3 786.5,901.3 788.5,900.3 790.5,899.3 792.5,898.2 794.5,897.2 796.5,896.0 798.5,894.9 800.5,893.7 802.5,892.5 804.5,891.3 806.5,890.0 808.5,888.7 810.5,887.4 812.5,886.0 814.5,884.6 816.5,883.2 818.5,881.8 820.5,880.3 822.5,878.7 824.5,877.2 826.5,875.6 828.5,874.0 830.5,872.4 832.5,870.7 834.5,869.0 836.5,867.3 838.5,865.5 840.5,863.8 842.5,862.0 844.5,860.2 846.5,858.3 848.5,856.5 850.5,854.6 852.5,852.7 854.5,850.8 856.5,848.9 858.5,846.9 860.5,845.0 862.5,843.0 864.5,841.0 866.5,839.0 868.5,837.0 870.5,834.9 872.5,832.9 874.5,830.8 876.5,828.7 878.5,826.7 880.5,824.6 882.5,822.5 884.5,820.4 886.5,818.2 888.5,816.1 890.5,814.0 892.5,811.8 894.5,809.6 896.5,807.5 898.5,805.3 900.5,803.1 902.5,800.9 904.5,798.6 906.5,796.4 908.5,794.2 910.5,791.9 912.5,789.6 914.5,787.4 916.5,785.1 918.5,782.8 920.5,780.5 922.5,778.2 924.5,775.9 926.5,773.5 928.5,771.2 930.5,768.8 932.5,766.5 934.5,764.1 936.5,761.7 938.5,759.3 940.5,756.9 942.5,754.5 944.5,752.1 946.5,749.7 948.5,747.2 950.5,744.8 952.5,742.4 954.5,739.9 956.5,737.4 958.5,735.0 960.5,732.5 962.5,730.0 964.5,727.5 966.5,725.0 968.5,722.5 970.5,720.0 972.5,717.5 974.5,715.0 976.5,712.5 978.5,709.9 980.5,707.4 982.5,704.9 984.5,702.3 986.5,699.8 988.5,697.3 990.5,694.7 992.5,692.2 994.5,689.6 996.5,687.0 998.5,684.5 1000.5,681.9 1002.5,679.4 1004.5,676.8 1006.5,674.2 1008.5,671.7 1010.5,669.1 1012.5,666.6 1014.5,664.0 1016.5,661.4 1018.5,658.9 1020.5,656.3 1022.5,653.8 1024.5,651.3 1026.5,648.7 1028.5,646.2 1030.5,643.7 1032.5,641.2 1034.5,638.7 1036.5,636.2 1038.5,633.7 1040.5,631.3 1042.5,628.8 1044.5,626.4 1046.5,623.9 1048.5,621.5 1050.5,619.1 1052.5,616.7 1054.5,614.4 1056.5,612.0 1058.5,609.7 1060.5,607.4 1062.5,605.1 1064.5,602.8 1066.5,600.5 1068.5,598.3 1070.5,596.1 1072.5,593.9 1074.5,591.7 1076.5,589.6 1078.5,587.4 1080.5,585.3 1082.5,583.3 1084.5,581.2 1086.5,579.2 1088.5,577.1 1090.5,575.2 1092.5,573.2 1094.5,571.2 1096.5,569.3 1098.5,567.4 1100.5,565.5 1102.5,563.6 1104.5,561.8 1106.5,559.9 1108.5,558.1 1110.5,556.3 1112.5,554.6 1114.5,552.8 1116.5,551.1 1118.5,549.4 1120.5,547.7 1122.5,546.0 1124.5,544.3 1126.5,542.7 1128.5,541.1 1130.5,539.5 1132.5,537.9 1134.5,536.3 1136.5,534.7 1138.5,533.2 1140.5,531.7 1142.5,530.2 1144.5,528.7 1146.5,527.2 1148.5,525.8 1150.5,524.4 1152.5,523.0 1154.5,521.6 1156.5,520.2 1158.5,518.8 1160.5,517.5 1162.5,516.2 1164.5,514.9 1166.5,513.7 1168.5,512.4 1170.5,511.2 1172.5,510.0 1174.5,508.8 1176.5,507.7 1178.5,506.6 1180.5,505.5 1182.5,504.4 1184.5,503.3 1186.5,502.3 1188.5,501.3 1190.5,500.4 1192.5,499.4 1194.5,498.5 1196.5,497.6 1198.5,496.8 1200.5,496.0 1202.5,495.2 1204.5,494.4 1206.5,493.7 1208.5,493.0 1210.5,492.3 1212.5,491.7 1214.5,491.1 1216.5,490.5 1218.5,490.0 1220.5,489.5 1222.5,489.0 1224.5,488.6 1226.5,488.1 1228.5,487.8 1230.5,487.4 1232.5,487.1 1234.5,486.9 1236.5,486.6 1238.5,486.4 1240.5,486.3 1242.5,486.1 1244.5,486.1 1246.5,486.0 1248.5,486.0 1250.5,486.0 1252.5,486.0 1254.5,486.1 1256.5,486.3 1258.5,486.4 1260.5,486.6 1262.5,486.8 1264.5,487.1 1266.5,487.4 1268.5,487.8 1270.5,488.2 1272.5,488.6 1274.5,489.0 1276.5,489.5 1278.5,490.1 1280.5,490.7 1282.5,491.3 1284.5,491.9 1286.5,492.6 1288.5,493.3 1290.5,494.1 1292.5,494.9 1294.5,495.8 1296.5,496.6 1298.5,497.5 1300.5,498.5 1302.5,499.4 1304.5,500.4 1306.5,501.5 1308.5,502.5 1310.5,503.6 1312.5,504.8 1314.5,505.9 1316.5,507.1 1318.5,508.3 1320.5,509.5 1322.5,510.8 1324.5,512.1 1326.5,513.4 1328.5,514.7 1330.5,516.0 1332.5,517.4 1334.5,518.8 1336.5,520.2 1338.5,521.7 1340.5,523.1 1342.5,524.6 1344.5,526.1 1346.5,527.6 1348.5,529.1 1350.5,530.6 1352.5,532.2 1354.5,533.7 1356.5,535.3 1358.5,536.9 1360.5,538.5 1362.5,540.1 1364.5,541.8 1366.5,543.4 1368.5,545.1 1370.5,546.8 1372.5,548.5 1374.5,550.2 1376.5,552.0 1378.5,553.7 1380.5,555.5 1382.5,557.3 1384.5,559.1 1386.5,560.9 1388.5,562.8 1390.5,564.6 1392.5,566.5 1394.5,568.4 1396.5,570.3 1398.5,572.3 1400.5,574.2 1402.5,576.2 1404.5,578.2 1406.5,580.2 1408.5,582.2 1410.5,584.3 1412.5,586.4 1414.5,588.5 1416.5,590.6 1418.5,592.7 1420.5,594.9 1422.5,597.1 1424.5,599.3 1426.5,601.5 1428.5,603.7 1430.5,606.0 1432.5,608.3 1434.5,610.6 1436.5,612.9 1438.5,615.3 1440.5,617.6 1442.5,620.0 1444.5,622.5 1446.5,624.9 1448.5,627.3 1450.5,629.8 1452.5,632.3 1454.5,634.8 1456.5,637.4 1458.5,639.9 1460.5,642.5 1462.5,645.1 1464.5,647.7 1466.5,650.3 1468.5,653.0 1470.5,655.7 1472.5,658.4 1474.5,661.1 1476.5,663.8 1478.5,666.6 1480.5,669.3 1482.5,672.1 1484.5,674.9 1486.5,677.7 1488.5,680.6 1490.5,683.4 1492.5,686.3 1494.5,689.2 1496.5,692.1 1498.5,695.1 1500.5,698.0 1502.5,701.0 1504.5,704.0 1506.5,707.0 1508.5,710.0 1510.5,713.1 1512.5,716.1 1514.5,719.2 1516.5,722.3 1518.5,725.4 1520.5,728.5 1522.5,731.6 1524.5,734.8 1526.5,737.9 1528.5,741.1 1530.5,744.3 1532.5,747.5 1534.5,750.7 1536.5,754.0 1538.5,757.2 1540.5,760.5 1542.5,763.7 1544.5,767.0 1546.5,770.3 1548.5,773.6 1550.5,777.0 1552.5,780.3 1554.5,783.7 1556.5,787.0 1558.5,790.4 1560.5,793.8 1562.5,797.2 1564.5,800.6 1566.5,804.0 1568.5,807.4 1570.5,810.9 1572.5,814.3 1574.5,817.8 1576.5,821.2 1578.5,824.7 1580.5,828.2 1582.5,831.7 1584.5,835.2 1586.5,838.7 1588.5,842.2 1590.5,845.7 1592.5,849.3 1594.5,852.8 1596.5,856.4 1598.5,859.9 1600.5,863.5 1602.5,867.1 1604.5,870.7 1606.5,874.3 1608.5,877.9 1610.5,881.5 1612.5,885.1 1614.5,888.7 1616.5,892.3 1618.5,895.9 1620.5,899.6 1622.5,903.2 1624.5,906.8 1626.5,910.5 1628.5,914.1 1630.5,917.8 1632.5,921.5 1634.5,925.1 1636.5,928.8 1638.5,932.5 1640.5,936.1 1642.5,939.8 1644.5,943.5 1646.5,947.1 1648.5,950.8 1650.5,954.5 1652.5,958.2 1654.5,961.8 1656.5,965.5 1658.5,969.1 1660.5,972.8 1662.5,976.5 1664.5,980.1 1666.5,983.7 1668.5,987.4 1670.5,991.0 1672.5,994.6 1674.5,998.2 1676.5,1001.8 1678.5,1005.4 1680.5,1009.0 1682.5,1012.5 1684.5,1016.1 1686.5,1019.6 1688.5,1023.1 1690.5,1026.6 1692.5,1030.1 1694.5,1033.6 1696.5,1037.1 1698.5,1040.5 1700.5,1044.0 1702.5,1047.4 1704.5,1050.8 1706.5,1054.1 1708.5,1057.5 1710.5,1060.8 1712.5,1064.1 1714.5,1067.4 1716.5,1070.7 1718.5,1074.0 1720.5,1077.2 1722.5,1080.4 1724.5,1083.6 1726.5,1086.8 1728.5,1089.9 1730.5,1093.1 1732.5,1096.2 1734.5,1099.3 1736.5,1102.3 1738.5,1105.4 1740.5,1108.4 1742.5,1111.4 1744.5,1114.3 1746.5,1117.3 1748.5,1120.2 1750.5,1123.1 1752.5,1126.0 1754.5,1128.8 1756.5,1131.6 1758.5,1134.4 1760.5,1137.2 1762.5,1139.9 1764.5,1142.7 1766.5,1145.3 1768.5,1148.0 1770.5,1150.6 1772.5,1153.2 1774.5,1155.8 1776.5,1158.4 1778.5,1160.9 1780.5,1163.4 1782.5,1165.9 1784.5,1168.3 1786.5,1170.8 1788.5,1173.2 1790.5,1175.5 1792.5,1177.9 1794.5,1180.2 1796.5,1182.5 1798.5,1184.8 1800.5,1187.0 1802.5,1189.3 1804.5,1191.5 1806.5,1193.6 1808.5,1195.8 1810.5,1197.9 1812.5,1200.1 1814.5,1202.1 1816.5,1204.3 1818.5,1206.5 1820.5,1208.8 1822.5,1211.1 1824.5,1213.5 1826.5,1215.8 1828.5,1217.9 1830.5,1219.9 1832.5,1221.5 1834.5,1223.1 1836.5,1224.5 1838.5,1225.9 1840.5,1227.2 1842.5,1228.6 1844.5,1230.1 1846.5,1231.8 1848.5,1233.8 1850.5,1235.8 1852.5,1237.8 1854.5,1240.0 1856.5,1242.3 1858.5,1244.6 1860.5,1246.9 1862.5,1248.6 1864.5,1250.0 1866.5,1251.0 1868.5,1252.1 1870.5,1253.1 1872.5,1254.4 1874.5,1255.6 1876.5,1256.9 1878.5,1257.9 1880.5,1259.0 1882.5,1260.2 1884.5,1261.6 1886.5,1263.1 1888.5,1264.6 1890.5,1266.0 1892.5,1267.4 1894.5,1268.8 1896.5,1270.1 1898.5,1271.5 1900.5,1272.9 1902.5,1274.4 1904.5,1275.9 1906.5,1277.3 1908.5,1278.5 1910.5,1279.6 1912.5,1280.6 1914.5,1281.6 1916.5,1282.3 1918.5,1283.0 1920.5,1283.5 1922.5,1284.0 1924.5,1284.5 1926.5,1285.1 1928.5,1285.8 1930.5,1286.5 1932.5,1287.1 1934.5,1287.8 1936.5,1288.5 1938.5,1289.1 1940.5,1289.8 1942.5,1290.6 1944.5,1291.4 1946.5,1292.2 1948.5,1293.0 1950.5,1293.9 1952.5,1294.7 1954.5,1295.5 1956.5,1296.4 1958.5,1297.1 1960.5,1297.7 1962.5,1298.2 1964.5,1298.7 1966.5,1299.2 1968.5,1299.6 1970.5,1300.0 1972.5,1300.3 1974.5,1300.7 1976.5,1301.1 1978.5,1301.5 1980.5,1302.0 1982.5,1302.5 1984.5,1303.0 1986.5,1303.5 1988.5,1304.0 1990.5,1304.5 1992.5,1305.0 1994.5,1305.5 1996.5,1306.0 1998.5,1306.5 2000.5,1307.0 2002.5,1307.6 2004.5,1308.2 2006.5,1308.8 2008.5,1309.4 2010.5,1310.0 2012.5,1310.6 2014.5,1311.2 2016.5,1311.7 2018.5,1312.2 2020.5,1312.7 2022.5,1313.2 2024.5,1313.7 2026.5,1314.2 2028.5,1314.7 2030.5,1315.1 2032.5,1315.5 2034.5,1316.0 2036.5,1316.3 2038.5,1316.7 2040.5,1317.1 2042.5,1317.5 2044.5,1317.8 2046.5,1318.2 2048.5,1318.5 2050.5,1318.8 2052.5,1319.1 2054.5,1319.3 2056.5,1319.6 2058.5,1319.8 2060.5,1320.0 2062.5,1320.2 2064.5,1320.4 2066.5,1320.6 2068.5,1320.8 2070.5,1320.9 2072.5,1321.0 2074.5,1321.2 2076.5,1321.3 2078.5,1321.4 2080.5,1321.5 2082.5,1321.6 2084.5,1321.6 2086.5,1321.7 2088.5,1321.8 2090.5,1321.8 2092.5,1321.9 2094.5,1321.9 2096.5,1322.0 2098.5,1322.0 2100.5,1322.0 2102.5,1322.1 2104.5,1322.1 2106.5,1322.1 2108.5,1322.2 2110.5,1322.2 2112.5,1322.2 2114.5,1322.2 2116.5,1322.3 2118.5,1322.3 2120.5,1322.3 2122.5,1322.4 2124.5,1322.4 2126.5,1322.5 2128.5,1322.5 2130.5,1322.6 2132.5,1322.6 2134.5,1322.7 2136.5,1322.8 2138.5,1322.8 2140.5,1322.9 2142.5,1322.9 2144.5,1323.0 2146.5,1323.1 2148.5,1323.1 2150.5,1323.2 2152.5,1323.2 2154.5,1323.3 2156.5,1323.3 2158.5,1323.4 2160.5,1323.4 2162.5,1323.4 2164.5,1323.5 2166.5,1323.5 2168.5,1323.5 2170.5,1323.5 2172.5,1323.6 2174.5,1323.6 2176.5,1323.5 2178.5,1323.5 2180.5,1323.5 2182.5,1323.5 2184.5,1323.5 2186.5,1323.4 2188.5,1323.4 2190.5,1323.3" stroke="#00ffff"/>
<path d="M288.5,1106.9 290.5,1108.3 292.5,1109.7 294.5,1111.0 296.5,1112.3 298.5,1113.5 300.5,1114.6 302.5,1115.7 304.5,1116.8 306.5,1117.8 308.5,1118.8 310.5,1119.8 312.5,1120.8 314.5,1121.8 316.5,1122.8 318.5,1123.8 320.5,1124.9 322.5,1125.9 324.5,1127.0 326.5,1128.2 328.5,1129.3 330.5,1130.5 332.5,1131.8 334.5,1133.0 336.5,1134.4 338.5,1135.7 340.5,1137.2 342.5,1138.6 344.5,1140.2 346.5,1141.8 348.5,1143.4 350.5,1145.1 352.5,1146.9 354.5,1148.6 356.5,1150.4 358.5,1152.2 360.5,1154.0 362.5,1155.8 364.5,1157.5 366.5,1159.3 368.5,1160.9 370.5,1162.5 372.5,1164.0 374.5,1165.5 376.5,1166.8 378.5,1168.0 380.5,1169.2 382.5,1170.2 384.5,1171.2 386.5,1172.0 388.5,1172.7 390.5,1173.4 392.5,1173.9 394.5,1174.4 396.5,1174.7 398.5,1175.0 400.5,1175.2 402.5,1175.2 404.5,1175.2 406.5,1175.1 408.5,1174.9 410.5,1174.6 412.5,1174.2 414.5,1173.7 416.5,1173.1 418.5,1172.4 420.5,1171.7 422.5,1170.9 424.5,1170.0 426.5,1169.0 428.5,1167.9 430.5,1166.8 432.5,1165.6 434.5,1164.3 436.5,1163.0 438.5,1161.6 440.5,1160.1 442.5,1158.5 444.5,1156.9 446.5,1155.2 448.5,1153.4 450.5,1151.6 452.5,1149.7 454.5,1147.8 456.5,1145.8 458.5,1143.7 460.5,1141.6 462.5,1139.4 464.5,1137.1 466.5,1134.9 468.5,1132.6 470.5,1130.2 472.5,1127.9 474.5,1125.5 476.5,1123.1 478.5,1120.7 480.5,1118.3 482.5,1115.9 484.5,1113.6 486.5,1111.2 488.5,1108.9 490.5,1106.7 492.5,1104.4 494.5,1102.2 496.5,1100.0 498.5,1097.9 500.5,1095.7 502.5,1093.5 504.5,1091.3 506.5,1089.0 508.5,1086.7 510.5,1084.4 512.5,1082.0 514.5,1079.5 516.5,1077.0 518.5,1074.4 520.5,1071.7 522.5,1068.8 524.5,1065.9 526.5,1062.9 528.5,1059.7 530.5,1056.4 532.5,1053.1 534.5,1049.6 536.5,1046.1 538.5,1042.5 540.5,1038.8 542.5,1035.1 544.5,1031.3 546.5,1027.5 548.5,1023.6 550.5,1019.7 552.5,1015.8 554.5,1011.8 556.5,1007.8 558.5,1003.9 560.5,999.9 562.5,995.9 564.5,992.0 566.5,988.1 568.5,984.2 570.5,980.3 572.5,976.4 574.5,972.6 576.5,968.8 578.5,965.0 580.5,961.2 582.5,957.4 584.5,953.6 586.5,949.8 588.5,946.1 590.5,942.3 592.5,938.5 594.5,934.7 596.5,931.0 598.5,927.2 600.5,923.4 602.5,919.6 604.5,915.7 606.5,911.9 608.5,908.0 610.5,904.1 612.5,900.2 614.5,896.3 616.5,892.3 618.5,888.4 620.5,884.3 622.5,880.3 624.5,876.2 626.5,872.1 628.5,868.0 630.5,863.8 632.5,859.7 634.5,855.5 636.5,851.3 638.5,847.0 640.5,842.7 642.5,838.5 644.5,834.2 646.5,829.8 648.5,825.5 650.5,821.1 652.5,816.7 654.5,812.4 656.5,807.9 658.5,803.5 660.5,799.1 662.5,794.6 664.5,790.1 666.5,785.7 668.5,781.2 670.5,776.7 672.5,772.1 674.5,767.6 676.5,763.1 678.5,758.5 680.5,754.0 682.5,749.4 684.5,744.9 686.5,740.3 688.5,735.7 690.5,731.1 692.5,726.5 694.5,722.0 696.5,717.4 698.5,712.8 700.5,708.2 702.5,703.6 704.5,699.0 706.5,694.4 708.5,689.8 710.5,685.3 712.5,680.7 714.5,676.1 716.5,671.5 718.5,667.0 720.5,662.4 722.5,657.9 724.5,653.3 726.5,648.8 728.5,644.3 730.5,639.8 732.5,635.3 734.5,630.8 736.5,626.3 738.5,621.9 740.5,617.4 742.5,613.0 744.5,608.6 746.5,604.2 748.5,599.8 750.5,595.4 752.5,591.1 754.5,586.8 756.5,582.5 758.5,578.2 760.5,573.9 762.5,569.7 764.5,565.5 766.5,561.4 768.5,557.2 770.5,553.1 772.5,549.1 774.5,545.0 776.5,541.0 778.5,537.1 780.5,533.1 782.5,529.2 784.5,525.4 786.5,521.6 788.5,517.8 790.5,514.1 792.5,510.4 794.5,506.8 796.5,503.2 798.5,499.6 800.5,496.1 802.5,492.7 804.5,489.3 806.5,486.0 808.5,482.7 810.5,479.5 812.5,476.3 814.5,473.2 816.5,470.1 818.5,467.1 820.5,464.2 822.5,461.3 824.5,458.4 826.5,455.6 828.5,452.9 830.5,450.3 832.5,447.6 834.5,445.1 836.5,442.6 838.5,440.2 840.5,437.8 842.5,435.5 844.5,433.2 846.5,431.0 848.5,428.9 850.5,426.8 852.5,424.8 854.5,422.8 856.5,420.9 858.5,419.0 860.5,417.3 862.5,415.5 864.5,413.9 866.5,412.3 868.5,410.7 870.5,409.3 872.5,407.9 874.5,406.5 876.5,405.2 878.5,404.0 880.5,402.8 882.5,401.7 884.5,400.7 886.5,399.7 888.5,398.8 890.5,397.9 892.5,397.1 894.5,396.4 896.5,395.7 898.5,395.1 900.5,394.6 902.5,394.1 904.5,393.6 906.5,393.3 908.5,393.0 910.5,392.7 912.5,392.5 914.5,392.4 916.5,392.3 918.5,392.3 920.5,392.3 922.5,392.4 924.5,392.6 926.5,392.8 928.5,393.1 930.5,393.5 932.5,393.9 934.5,394.3 936.5,394.8 938.5,395.4 940.5,396.0 942.5,396.7 944.5,397.5 946.5,398.3 948.5,399.1 950.5,400.1 952.5,401.0 954.5,402.1 956.5,403.2 958.5,404.4 960.5,405.6 962.5,406.9 964.5,408.3 966.5,409.7 968.5,411.2 970.5,412.8 972.5,414.4 974.5,416.1 976.5,417.9 978.5,419.7 980.5,421.6 982.5,423.6 984.5,425.6 986.5,427.7 988.5,429.9 990.5,432.2 992.5,434.5 994.5,436.9 996.5,439.4 998.5,442.0 1000.5,444.6 1002.5,447.3 1004.5,450.1 1006.5,453.0 1008.5,455.9 1010.5,459.0 1012.5,462.1 1014.5,465.2 1016.5,468.5 1018.5,471.8 1020.5,475.2 1022.5,478.7 1024.5,482.2 1026.5,485.8 1028.5,489.5 1030.5,493.2 1032.5,497.1 1034.5,500.9 1036.5,504.9 1038.5,508.9 1040.5,513.0 1042.5,517.1 1044.5,521.3 1046.5,525.6 1048.5,529.9 1050.5,534.2 1052.5,538.7 1054.5,543.2 1056.5,547.7 1058.5,552.3 1060.5,557.0 1062.5,561.7 1064.5,566.5 1066.5,571.3 1068.5,576.1 1070.5,581.1 1072.5,586.0 1074.5,591.1 1076.5,596.1 1078.5,601.2 1080.5,606.4 1082.5,611.6 1084.5,616.9 1086.5,622.2 1088.5,627.5 1090.5,632.9 1092.5,638.4 1094.5,643.9 1096.5,649.4 1098.5,655.0 1100.5,660.7 1102.5,666.4 1104.5,672.1 1106.5,677.9 1108.5,683.7 1110.5,689.6 1112.5,695.6 1114.5,701.6 1116.5,707.6 1118.5,713.7 1120.5,719.8 1122.5,726.0 1124.5,732.2 1126.5,738.5 1128.5,744.8 1130.5,751.2 1132.5,757.6 1134.5,764.1 1136.5,770.6 1138.5,777.2 1140.5,783.8 1142.5,790.5 1144.5,797.2 1146.5,803.9 1148.5,810.7 1150.5,817.5 1152.5,824.3 1154.5,831.1 1156.5,838.0 1158.5,844.8 1160.5,851.7 1162.5,858.6 1164.5,865.4 1166.5,872.3 1168.5,879.1 1170.5,886.0 1172.5,892.8 1174.5,899.6 1176.5,906.4 1178.5,913.1 1180.5,919.8 1182.5,926.5 1184.5,933.1 1186.5,939.7 1188.5,946.3 1190.5,952.8 1192.5,959.2 1194.5,965.5 1196.5,971.8 1198.5,978.1 1200.5,984.2 1202.5,990.3 1204.5,996.3 1206.5,1002.2 1208.5,1008.0 1210.5,1013.8 1212.5,1019.4 1214.5,1025.0 1216.5,1030.5 1218.5,1035.9 1220.5,1041.2 1222.5,1046.5 1224.5,1051.7 1226.5,1056.8 1228.5,1061.8 1230.5,1066.8 1232.5,1071.7 1234.5,1076.5 1236.5,1081.3 1238.5,1086.0 1240.5,1090.6 1242.5,1095.1 1244.5,1099.6 1246.5,1104.0 1248.5,1108.4 1250.5,1112.7 1252.5,1116.9 1254.5,1121.1 1256.5,1125.2 1258.5,1129.2 1260.5,1133.2 1262.5,1137.2 1264.5,1141.0 1266.5,1144.9 1268.5,1148.6 1270.5,1152.4 1272.5,1156.0 1274.5,1159.6 1276.5,1163.2 1278.5,1166.7 1280.5,1170.2 1282.5,1173.6 1284.5,1177.0 1286.5,1180.3 1288.5,1183.5 1290.5,1186.7 1292.5,1189.9 1294.5,1193.0 1296.5,1196.1 1298.5,1199.1 1300.5,1202.0 1302.5,1204.9 1304.5,1207.8 1306.5,1210.6 1308.5,1213.4 1310.5,1216.1 1312.5,1218.7 1314.5,1221.3 1316.5,1223.9 1318.5,1226.4 1320.5,1228.9 1322.5,1231.3 1324.5,1233.6 1326.5,1236.0 1328.5,1238.2 1330.5,1240.5 1332.5,1242.6 1334.5,1244.8 1336.5,1246.8 1338.5,1248.9 1340.5,1250.9 1342.5,1252.8 1344.5,1254.7 1346.5,1256.5 1348.5,1258.3 1350.5,1260.1 1352.5,1261.8 1354.5,1263.5 1356.5,1265.1 1358.5,1266.7 1360.5,1268.3 1362.5,1269.8 1364.5,1271.3 1366.5,1272.7 1368.5,1274.1 1370.5,1275.5 1372.5,1276.9 1374.5,1278.2 1376.5,1279.4 1378.5,1280.7 1380.5,1281.9 1382.5,1283.0 1384.5,1284.2 1386.5,1285.3 1388.5,1286.4 1390.5,1287.5 1392.5,1288.5 1394.5,1289.5 1396.5,1290.5 1398.5,1291.4 1400.5,1292.3 1402.5,1293.2 1404.5,1294.1 1406.5,1295.0 1408.5,1295.8 1410.5,1296.6 1412.5,1297.4 1414.5,1298.2 1416.5,1298.9 1418.5,1299.7 1420.5,1300.4 1422.5,1301.1 1424.5,1301.7 1426.5,1302.4 1428.5,1303.0 1430.5,1303.6 1432.5,1304.2 1434.5,1304.8 1436.5,1305.3 1438.5,1305.9 1440.5,1306.4 1442.5,1306.9 1444.5,1307.4 1446.5,1307.9 1448.5,1308.3 1450.5,1308.8 1452.5,1309.2 1454.5,1309.6 1456.5,1310.0 1458.5,1310.4 1460.5,1310.7 1462.5,1311.1 1464.5,1311.4 1466.5,1311.8 1468.5,1312.1 1470.5,1312.4 1472.5,1312.7 1474.5,1312.9 1476.5,1313.2 1478.5,1313.5 1480.5,1313.7 1482.5,1313.9 1484.5,1314.2 1486.5,1314.4 1488.5,1314.6 1490.5,1314.8 1492.5,1315.0 1494.5,1315.1 1496.5,1315.3 1498.5,1315.5 1500.5,1315.6 1502.5,1315.7 1504.5,1315.9 1506.5,1316.0 1508.5,1316.1 1510.5,1316.2 1512.5,1316.3 1514.5,1316.4 1516.5,1316.5 1518.5,1316.6 1520.5,1316.6 1522.5,1316.7 1524.5,1316.8 1526.5,1316.8 1528.5,1316.9 1530.5,1316.9 1532.5,1317.0 1534.5,1317.0 1536.5,1317.0 1538.5,1317.1 1540.5,1317.1 1542.5,1317.1 1544.5,1317.1 1546.5,1317.2 1548.5,1317.2 1550.5,1317.2 1552.5,1317.2 1554.5,1317.2 1556.5,1317.2 1558.5,1317.2 1560.5,1317.2 1562.5,1317.2 1564.5,1317.2 1566.5,1317.2 1568.5,1317.2 1570.5,1317.2 1572.5,1317.2 1574.5,1317.2 1576.5,1317.2 1578.5,1317.2 1580.5,1317.2 1582.5,1317.1 1584.5,1317.1 1586.5,1317.1 1588.5,1317.1 1590.5,1317.1 1592.5,1317.1 1594.5,1317.1 1596.5,1317.1 1598.5,1317.2 1600.5,1317.2 1602.5,1317.2 1604.5,1317.2 1606.5,1317.2 1608.5,1317.2 1610.5,1317.3 1612.5,1317.3 1614.5,1317.3 1616.5,1317.3 1618.5,1317.4 1620.5,1317.4 1622.5,1317.4 1624.5,1317.5 1626.5,1317.5 1628.5,1317.5 1630.5,1317.6 1632.5,1317.6 1634.5,1317.7 1636.5,1317.7 1638.5,1317.8 1640.5,1317.8 1642.5,1317.8 1644.5,1317.9 1646.5,1317.9 1648.5,1318.0 1650.5,1318.0 1652.5,1318.1 1654.5,1318.1 1656.5,1318.2 1658.5,1318.2 1660.5,1318.3 1662.5,1318.3 1664.5,1318.4 1666.5,1318.4 1668.5,1318.5 1670.5,1318.5 1672.5,1318.6 1674.5,1318.6 1676.5,1318.7 1678.5,1318.7 1680.5,1318.8 1682.5,1318.8 1684.5,1318.9 1686.5,1318.9 1688.5,1319.0 1690.5,1319.0 1692.5,1319.1 1694.5,1319.1 1696.5,1319.1 1698.5,1319.2 1700.5,1319.2 1702.5,1319.3 1704.5,1319.3 1706.5,1319.3 1708.5,1319.4 1710.5,1319.4 1712.5,1319.4 1714.5,1319.5 1716.5,1319.5 1718.5,1319.5 1720.5,1319.5 1722.5,1319.6 1724.5,1319.6 1726.5,1319.6 1728.5,1319.6 1730.5,1319.7 1732.5,1319.7 1734.5,1319.7 1736.5,1319.7 1738.5,1319.7 1740.5,1319.7 1742.5,1319.7 1744.5,1319.7 1746.5,1319.7 1748.5,1319.7 1750.5,1319.7 1752.5,1319.7 1754.5,1319.7 1756.5,1319.7 1758.5,1319.7 1760.5,1319.7 1762.5,1319.7 1764.5,1319.7 1766.5,1319.7 1768.5,1319.7 1770.5,1319.7 1772.5,1319.7 1774.5,1319.7 1776.5,1319.7 1778.5,1319.7 1780.5,1319.7 1782.5,1319.7 1784.5,1319.7 1786.5,1319.7 1788.5,1319.7 1790.5,1319.7 1792.5,1319.7 1794.5,1319.7 1796.5,1319.7 1798.5,1319.7 1800.5,1319.7 1802.5,1319.8 1804.5,1319.8 1806.5,1319.8 1808.5,1319.8 1810.5,1319.8 1812.5,1319.9 1814.5,1319.9 1816.5,1319.9 1818.5,1319.9 1820.5,1320.0 1822.5,1320.0 1824.5,1320.0 1826.5,1320.0 1828.5,1320.1 1830.5,1320.1 1832.5,1320.1 1834.5,1320.2 1836.5,1320.2 1838.5,1320.3 1840.5,1320.3 1842.5,1320.3 1844.5,1320.4 1846.5,1320.4 1848.5,1320.4 1850.5,1320.5 1852.5,1320.5 1854.5,1320.6 1856.5,1320.6 1858.5,1320.7 1860.5,1320.7 1862.5,1320.7 1864.5,1320.8 1866.5,1320.8 1868.5,1320.9 1870.5,1320.9 1872.5,1320.9 1874.5,1321.0 1876.5,1321.0 1878.5,1321.1 1880.5,1321.1 1882.5,1321.2 1884.5,1321.2 1886.5,1321.2 1888.5,1321.3 1890.5,1321.3 1892.5,1321.4 1894.5,1321.4 1896.5,1321.4 1898.5,1321.5 1900.5,1321.5 1902.5,1321.6 1904.5,1321.6 1906.5,1321.6 1908.5,1321.7 1910.5,1321.7 1912.5,1321.8 1914.5,1321.8 1916.5,1321.8 1918.5,1321.9 1920.5,1321.9 1922.5,1321.9 1924.5,1322.0 1926.5,1322.0 1928.5,1322.0 1930.5,1322.1 1932.5,1322.1 1934.5,1322.1 1936.5,1322.1 1938.5,1322.2 1940.5,1322.2 1942.5,1322.2 1944.5,1322.2 1946.5,1322.3 1948.5,1322.3 1950.5,1322.3 1952.5,1322.3 1954.5,1322.4 1956.5,1322.4 1958.5,1322.4 1960.5,1322.4 1962.5,1322.4 1964.5,1322.5 1966.5,1322.5 1968.5,1322.5 1970.5,1322.5 1972.5,1322.5 1974.5,1322.6 1976.5,1322.6 1978.5,1322.6 1980.5,1322.6 1982.5,1322.6 1984.5,1322.6 1986.5,1322.7 1988.5,1322.7 1990.5,1322.7 1992.5,1322.7 1994.5,1322.7 1996.5,1322.7 1998.5,1322.7 2000.5,1322.8 2002.5,1322.8 2004.5,1322.8 2006.5,1322.8 2008.5,1322.8 2010.5,1322.8 2012.5,1322.8 2014.5,1322.9 2016.5,1322.9 2018.5,1322.9 2020.5,1322.9 2022.5,1322.9 2024.5,1322.9 2026.5,1322.9 2028.5,1323.0 2030.5,1323.0 2032.5,1323.0 2034.5,1323.0 2036.5,1323.0 2038.5,1323.0 2040.5,1323.0 2042.5,1323.0 2044.5,1323.1 2046.5,1323.1 2048.5,1323.1 2050.5,1323.1 2052.5,1323.1 2054.5,1323.1 2056.5,1323.1 2058.5,1323.1 2060.5,1323.2 2062.5,1323.2 2064.5,1323.2 2066.5,1323.2 2068.5,1323.2 2070.5,1323.2 2072.5,1323.2 2074.5,1323.2 2076.5,1323.2 2078.5,1323.3 2080.5,1323.3 2082.5,1323.3 2084.5,1323.3 2086.5,1323.3 2088.5,1323.3 2090.5,1323.3 2092.5,1323.3 2094.5,1323.3 2096.5,1323.3 2098.5,1323.3 2100.5,1323.3 2102.5,1323.4 2104.5,1323.4 2106.5,1323.4 2108.5,1323.4 2110.5,1323.4 2112.5,1323.4 2114.5,1323.4 2116.5,1323.4 2118.5,1323.4 2120.5,1323.4 2122.5,1323.4 2124.5,1323.4 2126.5,1323.4 2128.5,1323.4 2130.5,1323.4 2132.5,1323.4 2134.5,1323.4 2136.5,1323.4 2138.5,1323.4 2140.5,1323.4 2142.5,1323.3 2144.5,1323.3 2146.5,1323.3 2148.5,1323.3 2150.5,1323.3 2152.5,1323.3 2154.5,1323.3 2156.5,1323.3 2158.5,1323.3 2160.5,1323.3 2162.5,1323.3 2164.5,1323.3 2166.5,1323.3 2168.5,1323.3 2170.5,1323.3 2172.5,1323.3 2174.5,1323.3 2176.5,1323.3 2178.5,1323.3 2180.5,1323.3 2182.5,1323.3 2184.5,1323.3 2186.5,1323.3 2188.5,1323.3 2190.5,1323.3" stroke="#808080"/>
<path d="M288.5,1051.6 290.5,1052.8 292.5,1054.0 294.5,1055.1 296.5,1056.2 298.5,1057.2 300.5,1058.3 302.5,1059.4 304.5,1060.5 306.5,1061.6 308.5,1062.8 310.5,1064.0 312.5,1065.3 314.5,1066.7 316.5,1068.2 318.5,1069.8 320.5,1071.5 322.5,1073.2 324.5,1075.1 326.5,1077.1 328.5,1079.1 330.5,1081.3 332.5,1083.4 334.5,1085.7 336.5,1088.0 338.5,1090.3 340.5,1092.7 342.5,1095.1 344.5,1097.6 346.5,1100.0 348.5,1102.5 350.5,1105.0 352.5,1107.5 354.5,1109.9 356.5,1112.4 358.5,1114.9 360.5,1117.3 362.5,1119.7 364.5,1122.0 366.5,1124.3 368.5,1126.5 370.5,1128.7 372.5,1130.8 374.5,1132.8 376.5,1134.8 378.5,1136.7 380.5,1138.4 382.5,1140.1 384.5,1141.6 386.5,1143.1 388.5,1144.4 390.5,1145.6 392.5,1146.7 394.5,1147.6 396.5,1148.4 398.5,1149.1 400.5,1149.6 402.5,1150.0 404.5,1150.2 406.5,1150.3 408.5,1150.3 410.5,1150.2 412.5,1150.0 414.5,1149.7 416.5,1149.2 418.5,1148.7 420.5,1148.1 422.5,1147.3 424.5,1146.5 426.5,1145.6 428.5,1144.6 430.5,1143.5 432.5,1142.4 434.5,1141.2 436.5,1139.9 438.5,1138.5 440.5,1137.0 442.5,1135.5 444.5,1133.9 446.5,1132.3 448.5,1130.6 450.5,1128.8 452.5,1127.0 454.5,1125.1 456.5,1123.2 458.5,1121.2 460.5,1119.2 462.5,1117.1 464.5,1115.0 466.5,1112.8 468.5,1110.6 470.5,1108.4 472.5,1106.1 474.5,1103.7 476.5,1101.3 478.5,1098.9 480.5,1096.5 482.5,1093.9 484.5,1091.4 486.5,1088.8 488.5,1086.2 490.5,1083.5 492.5,1080.7 494.5,1077.9 496.5,1075.1 498.5,1072.2 500.5,1069.2 502.5,1066.2 504.5,1063.1 506.5,1060.0 508.5,1056.8 510.5,1053.6 512.5,1050.3 514.5,1046.9 516.5,1043.5 518.5,1040.1 520.5,1036.6 522.5,1033.0 524.5,1029.5 526.5,1025.8 528.5,1022.2 530.5,1018.5 532.5,1014.8 534.5,1011.1 536.5,1007.3 538.5,1003.6 540.5,999.8 542.5,995.9 544.5,992.1 546.5,988.2 548.5,984.4 550.5,980.5 552.5,976.6 554.5,972.7 556.5,968.7 558.5,964.8 560.5,960.8 562.5,956.9 564.5,952.9 566.5,948.9 568.5,944.9 570.5,940.9 572.5,936.8 574.5,932.8 576.5,928.7 578.5,924.7 580.5,920.6 582.5,916.5 584.5,912.4 586.5,908.3 588.5,904.2 590.5,900.1 592.5,895.9 594.5,891.8 596.5,887.6 598.5,883.4 600.5,879.2 602.5,875.0 604.5,870.7 606.5,866.4 608.5,862.1 610.5,857.7 612.5,853.4 614.5,848.9 616.5,844.5 618.5,840.0 620.5,835.5 622.5,830.9 624.5,826.3 626.5,821.6 628.5,816.9 630.5,812.1 632.5,807.3 634.5,802.5 636.5,797.6 638.5,792.6 640.5,787.5 642.5,782.5 644.5,777.3 646.5,772.1 648.5,766.9 650.5,761.6 652.5,756.3 654.5,750.9 656.5,745.5 658.5,740.0 660.5,734.5 662.5,729.0 664.5,723.4 666.5,717.9 668.5,712.2 670.5,706.6 672.5,700.9 674.5,695.3 676.5,689.6 678.5,683.8 680.5,678.1 682.5,672.4 684.5,666.6 686.5,660.8 688.5,655.1 690.5,649.3 692.5,643.5 694.5,637.7 696.5,631.9 698.5,626.2 700.5,620.4 702.5,614.7 704.5,608.9 706.5,603.2 708.5,597.4 710.5,591.7 712.5,586.0 714.5,580.3 716.5,574.6 718.5,569.0 720.5,563.3 722.5,557.7 724.5,552.0 726.5,546.4 728.5,540.8 730.5,535.2 732.5,529.6 734.5,524.1 736.5,518.5 738.5,513.0 740.5,507.5 742.5,502.0 744.5,496.5 746.5,491.0 748.5,485.6 750.5,480.1 752.5,474.7 754.5,469.3 756.5,463.9 758.5,458.6 760.5,453.2 762.5,447.9 764.5,442.6 766.5,437.3 768.5,432.1 770.5,426.8 772.5,421.6 774.5,416.4 776.5,411.2 778.5,406.1 780.5,401.0 782.5,395.9 784.5,390.8 786.5,385.8 788.5,380.8 790.5,375.8 792.5,370.8 794.5,365.9 796.5,361.0 798.5,356.2 800.5,351.4 802.5,346.6 804.5,341.9 806.5,337.2 808.5,332.5 810.5,327.9 812.5,323.3 814.5,318.8 816.5,314.3 818.5,309.8 820.5,305.4 822.5,301.1 824.5,296.7 826.5,292.5 828.5,288.3 830.5,284.1 832.5,280.0 834.5,275.9 836.5,271.9 838.5,267.9 840.5,264.0 842.5,260.2 844.5,256.4 846.5,252.6 848.5,249.0 850.5,245.3 852.5,241.8 854.5,238.3 856.5,234.8 858.5,231.5 860.5,228.2 862.5,224.9 864.5,221.8 866.5,218.7 868.5,215.6 870.5,212.7 872.5,209.8 874.5,207.0 876.5,204.2 878.5,201.5 880.5,198.9 882.5,196.4 884.5,194.0 886.5,191.6 888.5,189.3 890.5,187.2 892.5,185.0 894.5,183.0 896.5,181.1 898.5,179.2 900.5,177.4 902.5,175.7 904.5,174.1 906.5,172.6 908.5,171.2 910.5,169.8 912.5,168.5 914.5,167.4 916.5,166.2 918.5,165.2 920.5,164.3 922.5,163.4 924.5,162.6 926.5,161.9 928.5,161.2 930.5,160.6 932.5,160.1 934.5,159.7 936.5,159.4 938.5,159.1 940.5,158.9 942.5,158.7 944.5,158.6 946.5,158.6 948.5,158.7 950.5,158.8 952.5,159.0 954.5,159.2 956.5,159.5 958.5,159.9 960.5,160.3 962.5,160.8 964.5,161.4 966.5,162.0 968.5,162.7 970.5,163.4 972.5,164.2 974.5,165.0 976.5,166.0 978.5,166.9 980.5,168.0 982.5,169.1 984.5,170.3 986.5,171.5 988.5,172.9 990.5,174.3 992.5,175.7 994.5,177.3 996.5,178.9 998.5,180.6 1000.5,182.4 1002.5,184.2 1004.5,186.2 1006.5,188.2 1008.5,190.3 1010.5,192.5 1012.5,194.8 1014.5,197.1 1016.5,199.6 1018.5,202.1 1020.5,204.8 1022.5,207.5 1024.5,210.3 1026.5,213.2 1028.5,216.2 1030.5,219.3 1032.5,222.5 1034.5,225.8 1036.5,229.2 1038.5,232.7 1040.5,236.3 1042.5,240.0 1044.5,243.8 1046.5,247.6 1048.5,251.6 1050.5,255.6 1052.5,259.7 1054.5,263.9 1056.5,268.2 1058.5,272.5 1060.5,277.0 1062.5,281.5 1064.5,286.1 1066.5,290.7 1068.5,295.4 1070.5,300.2 1072.5,305.1 1074.5,310.0 1076.5,315.0 1078.5,320.0 1080.5,325.2 1082.5,330.3 1084.5,335.6 1086.5,340.9 1088.5,346.2 1090.5,351.6 1092.5,357.0 1094.5,362.5 1096.5,368.1 1098.5,373.7 1100.5,379.3 1102.5,385.0 1104.5,390.7 1106.5,396.5 1108.5,402.3 1110.5,408.2 1112.5,414.2 1114.5,420.2 1116.5,426.2 1118.5,432.3 1120.5,438.5 1122.5,444.7 1124.5,451.0 1126.5,457.3 1128.5,463.7 1130.5,470.2 1132.5,476.8 1134.5,483.4 1136.5,490.0 1138.5,496.8 1140.5,503.6 1142.5,510.4 1144.5,517.4 1146.5,524.4 1148.5,531.5 1150.5,538.7 1152.5,545.9 1154.5,553.2 1156.5,560.6 1158.5,568.1 1160.5,575.6 1162.5,583.3 1164.5,591.0 1166.5,598.8 1168.5,606.7 1170.5,614.6 1172.5,622.6 1174.5,630.7 1176.5,638.8 1178.5,647.0 1180.5,655.2 1182.5,663.4 1184.5,671.7 1186.5,680.0 1188.5,688.4 1190.5,696.7 1192.5,705.1 1194.5,713.5 1196.5,721.9 1198.5,730.2 1200.5,738.6 1202.5,747.0 1204.5,755.3 1206.5,763.7 1208.5,772.0 1210.5,780.2 1212.5,788.5 1214.5,796.7 1216.5,804.8 1218.5,812.9 1220.5,821.0 1222.5,828.9 1224.5,836.9 1226.5,844.7 1228.5,852.5 1230.5,860.2 1232.5,867.8 1234.5,875.3 1236.5,882.7 1238.5,890.1 1240.5,897.4 1242.5,904.6 1244.5,911.7 1246.5,918.7 1248.5,925.7 1250.5,932.6 1252.5,939.4 1254.5,946.1 1256.5,952.8 1258.5,959.4 1260.5,965.9 1262.5,972.3 1264.5,978.6 1266.5,984.9 1268.5,991.1 1270.5,997.3 1272.5,1003.3 1274.5,1009.3 1276.5,1015.2 1278.5,1021.1 1280.5,1026.8 1282.5,1032.5 1284.5,1038.2 1286.5,1043.7 1288.5,1049.2 1290.5,1054.7 1292.5,1060.0 1294.5,1065.3 1296.5,1070.6 1298.5,1075.7 1300.5,1080.8 1302.5,1085.8 1304.5,1090.8 1306.5,1095.7 1308.5,1100.5 1310.5,1105.3 1312.5,1110.0 1314.5,1114.6 1316.5,1119.2 1318.5,1123.7 1320.5,1128.1 1322.5,1132.5 1324.5,1136.8 1326.5,1141.0 1328.5,1145.2 1330.5,1149.3 1332.5,1153.4 1334.5,1157.3 1336.5,1161.3 1338.5,1165.1 1340.5,1168.9 1342.5,1172.6 1344.5,1176.3 1346.5,1179.8 1348.5,1183.4 1350.5,1186.8 1352.5,1190.2 1354.5,1193.6 1356.5,1196.8 1358.5,1200.0 1360.5,1203.2 1362.5,1206.2 1364.5,1209.2 1366.5,1212.2 1368.5,1215.1 1370.5,1217.9 1372.5,1220.7 1374.5,1223.4 1376.5,1226.0 1378.5,1228.6 1380.5,1231.2 1382.5,1233.6 1384.5,1236.1 1386.5,1238.4 1388.5,1240.8 1390.5,1243.0 1392.5,1245.2 1394.5,1247.4 1396.5,1249.5 1398.5,1251.6 1400.5,1253.6 1402.5,1255.6 1404.5,1257.5 1406.5,1259.4 1408.5,1261.3 1410.5,1263.1 1412.5,1264.8 1414.5,1266.6 1416.5,1268.2 1418.5,1269.9 1420.5,1271.5 1422.5,1273.1 1424.5,1274.6 1426.5,1276.1 1428.5,1277.5 1430.5,1279.0 1432.5,1280.4 1434.5,1281.7 1436.5,1283.1 1438.5,1284.4 1440.5,1285.6 1442.5,1286.9 1444.5,1288.1 1446.5,1289.3 1448.5,1290.4 1450.5,1291.5 1452.5,1292.6 1454.5,1293.7 1456.5,1294.7 1458.5,1295.7 1460.5,1296.7 1462.5,1297.6 1464.5,1298.6 1466.5,1299.5 1468.5,1300.4 1470.5,1301.2 1472.5,1302.0 1474.5,1302.8 1476.5,1303.6 1478.5,1304.4 1480.5,1305.1 1482.5,1305.8 1484.5,1306.5 1486.5,1307.2 1488.5,1307.9 1490.5,1308.5 1492.5,1309.1 1494.5,1309.7 1496.5,1310.3 1498.5,1310.9 1500.5,1311.4 1502.5,1311.9 1504.5,1312.4 1506.5,1312.9 1508.5,1313.4 1510.5,1313.8 1512.5,1314.3 1514.5,1314.7 1516.5,1315.1 1518.5,1315.5 1520.5,1315.9 1522.5,1316.2 1524.5,1316.6 1526.5,1316.9 1528.5,1317.2 1530.5,1317.5 1532.5,1317.8 1534.5,1318.1 1536.5,1318.4 1538.5,1318.6 1540.5,1318.9 1542.5,1319.1 1544.5,1319.3 1546.5,1319.6 1548.5,1319.8 1550.5,1319.9 1552.5,1320.1 1554.5,1320.3 1556.5,1320.5 1558.5,1320.6 1560.5,1320.8 1562.5,1320.9 1564.5,1321.0 1566.5,1321.1 1568.5,1321.2 1570.5,1321.3 1572.5,1321.4 1574.5,1321.5 1576.5,1321.6 1578.5,1321.7 1580.5,1321.8 1582.5,1321.8 1584.5,1321.9 1586.5,1321.9 1588.5,1322.0 1590.5,1322.0 1592.5,1322.1 1594.5,1322.1 1596.5,1322.2 1598.5,1322.2 1600.5,1322.2 1602.5,1322.3 1604.5,1322.3 1606.5,1322.3 1608.5,1322.3 1610.5,1322.4 1612.5,1322.4 1614.5,1322.4 1616.5,1322.4 1618.5,1322.4 1620.5,1322.5 1622.5,1322.5 1624.5,1322.5 1626.5,1322.5 1628.5,1322.5 1630.5,1322.6 1632.5,1322.6 1634.5,1322.6 1636.5,1322.7 1638.5,1322.7 1640.5,1322.7 1642.5,1322.7 1644.5,1322.8 1646.5,1322.8 1648.5,1322.9 1650.5,1322.9 1652.5,1322.9 1654.5,1323.0 1656.5,1323.0 1658.5,1323.0 1660.5,1323.1 1662.5,1323.1 1664.5,1323.1 1666.5,1323.2 1668.5,1323.2 1670.5,1323.2 1672.5,1323.3 1674.5,1323.3 1676.5,1323.3 1678.5,1323.4 1680.5,1323.4 1682.5,1323.4 1684.5,1323.5 1686.5,1323.5 1688.5,1323.5 1690.5,1323.6 1692.5,1323.6 1694.5,1323.6 1696.5,1323.6 1698.5,1323.7 1700.5,1323.7 1702.5,1323.7 1704.5,1323.7 1706.5,1323.7 1708.5,1323.8 1710.5,1323.8 1712.5,1323.8 1714.5,1323.8 1716.5,1323.8 1718.5,1323.9 1720.5,1323.9 1722.5,1323.9 1724.5,1323.9 1726.5,1323.9 1728.5,1323.9 1730.5,1323.9 1732.5,1323.9 1734.5,1324.0 1736.5,1324.0 1738.5,1324.0 1740.5,1324.0 1742.5,1324.0 1744.5,1324.0 1746.5,1324.0 1748.5,1324.0 1750.5,1324.0 1752.5,1324.0 1754.5,1324.0 1756.5,1324.0 1758.5,1324.0 1760.5,1324.0 1762.5,1324.0 1764.5,1324.0 1766.5,1324.0 1768.5,1324.0 1770.5,1324.0 1772.5,1324.0 1774.5,1324.0 1776.5,1324.0 1778.5,1324.0 1780.5,1324.0 1782.5,1324.0 1784.5,1324.0 1786.5,1324.0 1788.5,1324.0 1790.5,1324.0 1792.5,1324.0 1794.5,1324.0 1796.5,1324.0 1798.5,1324.0 1800.5,1324.0 1802.5,1324.0 1804.5,1324.0 1806.5,1324.0 1808.5,1324.0 1810.5,1324.0 1812.5,1324.0 1814.5,1324.0 1816.5,1324.0 1818.5,1324.0 1820.5,1324.0 1822.5,1324.0 1824.5,1324.0 1826.5,1324.0 1828.5,1324.0 1830.5,1324.0 1832.5,1324.0 1834.5,1324.0 1836.5,1324.0 1838.5,1324.0 1840.5,1324.0 1842.5,1324.0 1844.5,1324.0 1846.5,1324.0 1848.5,1324.0 1850.5,1324.0 1852.5,1324.0 1854.5,1324.0 1856.5,1324.0 1858.5,1324.0 1860.5,1324.0 1862.5,1324.0 1864.5,1324.0 1866.5,1324.0 1868.5,1324.0 1870.5,1324.0 1872.5,1324.0 1874.5,1324.0 1876.5,1324.0 1878.5,1324.0 1880.5,1324.0 1882.5,1324.0 1884.5,1324.0 1886.5,1324.0 1888.5,1324.0 1890.5,1324.0 1892.5,1324.0 1894.5,1324.0 1896.5,1324.0 1898.5,1324.0 1900.5,1324.0 1902.5,1324.0 1904.5,1324.0 1906.5,1324.0 1908.5,1324.0 1910.5,1324.0 1912.5,1324.0 1914.5,1324.0 1916.5,1324.0 1918.5,1324.0 1920.5,1324.0 1922.5,1324.0 1924.5,1324.0 1926.5,1324.0 1928.5,1324.0 1930.5,1324.0 1932.5,1324.0 1934.5,1324.0 1936.5,1324.0 1938.5,1324.0 1940.5,1324.0 1942.5,1324.0 1944.5,1324.0 1946.5,1324.0 1948.5,1324.0 1950.5,1324.0 1952.5,1324.0 1954.5,1324.0 1956.5,1324.0 1958.5,1324.0 1960.5,1324.0 1962.5,1324.0 1964.5,1324.0 1966.5,1324.0 1968.5,1324.0 1970.5,1324.0 1972.5,1324.0 1974.5,1324.0 1976.5,1324.0 1978.5,1324.0 1980.5,1324.0 1982.5,1324.0 1984.5,1324.0 1986.5,1324.0 1988.5,1324.0 1990.5,1324.0 1992.5,1324.0 1994.5,1324.0 1996.5,1324.0 1998.5,1324.0 2000.5,1324.0 2002.5,1324.0 2004.5,1324.0 2006.5,1324.0 2008.5,1324.0 2010.5,1324.0 2012.5,1324.0 2014.5,1324.0 2016.5,1324.0 2018.5,1324.0 2020.5,1324.0 2022.5,1324.0 2024.5,1324.0 2026.5,1324.0 2028.5,1324.0 2030.5,1324.0 2032.5,1324.0 2034.5,1324.0 2036.5,1324.0 2038.5,1324.0 2040.5,1324.0 2042.5,1324.0 2044.5,1324.0 2046.5,1324.0 2048.5,1324.0 2050.5,1324.0 2052.5,1324.0 2054.5,1324.0 2056.5,1324.0 2058.5,1324.0 2060.5,1324.0 2062.5,1324.0 2064.5,1324.0 2066.5,1324.0 2068.5,1324.0 2070.5,1324.0 2072.5,1324.0 2074.5,1324.0 2076.5,1324.0 2078.5,1324.0 2080.5,1324.0 2082.5,1324.0 2084.5,1324.0 2086.5,1324.0 2088.5,1324.0 2090.5,1324.0 2092.5,1324.0 2094.5,1324.0 2096.5,1324.0 2098.5,1324.0 2100.5,1324.0 2102.5,1324.0 2104.5,1324.0 2106.5,1324.0 2108.5,1324.0 2110.5,1324.0 2112.5,1324.0 2114.5,1324.0 2116.5,1324.0 2118.5,1324.0 2120.5,1324.0 2122.5,1324.0 2124.5,1324.0 2126.5,1324.0 2128.5,1324.0 2130.5,1324.0 2132.5,1324.0 2134.5,1324.0 2136.5,1324.0 2138.5,1324.0 2140.5,1324.0 2142.5,1324.0 2144.5,1324.0 2146.5,1324.0 2148.5,1324.0 2150.5,1324.0 2152.5,1324.0 2154.5,1324.0 2156.5,1324.0 2158.5,1324.0 2160.5,1324.0 2162.5,1324.0 2164.5,1324.0 2166.5,1324.0 2168.5,1324.0 2170.5,1324.0 2172.5,1324.0 2174.5,1324.0 2176.5,1324.0 2178.5,1324.0 2180.5,1324.0 2182.5,1324.0 2184.5,1324.0 2186.5,1324.0 2188.5,1324.0 2190.5,1324.0" stroke="#000000"/>
<path d="M288.5,1249.6 290.5,1253.0 292.5,1256.6 294.5,1260.3 296.5,1264.0 298.5,1267.7 300.5,1271.4 302.5,1275.0 304.5,1278.6 306.5,1282.1 308.5,1285.4 310.5,1288.5 312.5,1291.5 314.5,1294.2 316.5,1296.7 318.5,1298.8 320.5,1300.8 322.5,1302.5 324.5,1303.9 326.5,1305.1 328.5,1306.1 330.5,1306.9 332.5,1307.4 334.5,1307.8 336.5,1307.9 338.5,1307.9 340.5,1307.7 342.5,1307.3 344.5,1306.8 346.5,1306.1 348.5,1305.3 350.5,1304.5 352.5,1303.5 354.5,1302.5 356.5,1301.4 358.5,1300.3 360.5,1299.1 362.5,1298.0 364.5,1296.8 366.5,1295.7 368.5,1294.6 370.5,1293.5 372.5,1292.3 374.5,1291.1 376.5,1289.9 378.5,1288.6 380.5,1287.3 382.5,1285.9 384.5,1284.4 386.5,1282.9 388.5,1281.2 390.5,1279.5 392.5,1277.7 394.5,1275.9 396.5,1274.0 398.5,1272.2 400.5,1270.3 402.5,1268.5 404.5,1266.7 406.5,1264.9 408.5,1263.3 410.5,1261.7 412.5,1260.2 414.5,1258.9 416.5,1257.6 418.5,1256.5 420.5,1255.5 422.5,1254.6 424.5,1253.7 426.5,1253.0 428.5,1252.4 430.5,1251.9 432.5,1251.5 434.5,1251.2 436.5,1250.9 438.5,1250.8 440.5,1250.7 442.5,1250.7 444.5,1250.7 446.5,1250.8 448.5,1251.0 450.5,1251.1 452.5,1251.3 454.5,1251.5 456.5,1251.7 458.5,1251.8 460.5,1252.0 462.5,1252.1 464.5,1252.2 466.5,1252.3 468.5,1252.3 470.5,1252.3 472.5,1252.3 474.5,1252.3 476.5,1252.3 478.5,1252.2 480.5,1252.1 482.5,1251.9 484.5,1251.7 486.5,1251.5 488.5,1251.3 490.5,1251.0 492.5,1250.7 494.5,1250.4 496.5,1250.1 498.5,1249.7 500.5,1249.3 502.5,1248.9 504.5,1248.4 506.5,1248.0 508.5,1247.5 510.5,1246.9 512.5,1246.4 514.5,1245.9 516.5,1245.3 518.5,1244.7 520.5,1244.2 522.5,1243.6 524.5,1243.1 526.5,1242.6 528.5,1242.0 530.5,1241.6 532.5,1241.1 534.5,1240.7 536.5,1240.2 538.5,1239.8 540.5,1239.4 542.5,1239.0 544.5,1238.5 546.5,1238.0 548.5,1237.5 550.5,1237.0 552.5,1236.4 554.5,1235.7 556.5,1235.0 558.5,1234.2 560.5,1233.4 562.5,1232.4 564.5,1231.4 566.5,1230.4 568.5,1229.3 570.5,1228.1 572.5,1226.9 574.5,1225.7 576.5,1224.4 578.5,1223.0 580.5,1221.6 582.5,1220.2 584.5,1218.8 586.5,1217.3 588.5,1215.8 590.5,1214.3 592.5,1212.7 594.5,1211.2 596.5,1209.6 598.5,1208.0 600.5,1206.4 602.5,1204.8 604.5,1203.2 606.5,1201.5 608.5,1199.9 610.5,1198.3 612.5,1196.6 614.5,1195.0 616.5,1193.4 618.5,1191.8 620.5,1190.1 622.5,1188.5 624.5,1186.9 626.5,1185.3 628.5,1183.7 630.5,1182.2 632.5,1180.6 634.5,1179.0 636.5,1177.4 638.5,1175.8 640.5,1174.2 642.5,1172.6 644.5,1171.0 646.5,1169.3 648.5,1167.7 650.5,1166.1 652.5,1164.4 654.5,1162.8 656.5,1161.1 658.5,1159.4 660.5,1157.7 662.5,1156.0 664.5,1154.2 666.5,1152.5 668.5,1150.7 670.5,1148.9 672.5,1147.1 674.5,1145.3 676.5,1143.4 678.5,1141.5 680.5,1139.6 682.5,1137.7 684.5,1135.7 686.5,1133.8 688.5,1131.8 690.5,1129.8 692.5,1127.7 694.5,1125.6 696.5,1123.5 698.5,1121.4 700.5,1119.2 702.5,1117.0 704.5,1114.8 706.5,1112.5 708.5,1110.3 710.5,1107.9 712.5,1105.6 714.5,1103.2 716.5,1100.8 718.5,1098.4 720.5,1095.9 722.5,1093.4 724.5,1090.9 726.5,1088.4 728.5,1085.9 730.5,1083.3 732.5,1080.7 734.5,1078.1 736.5,1075.4 738.5,1072.8 740.5,1070.1 742.5,1067.4 744.5,1064.7 746.5,1062.0 748.5,1059.3 750.5,1056.5 752.5,1053.8 754.5,1051.0 756.5,1048.2 758.5,1045.4 760.5,1042.6 762.5,1039.8 764.5,1037.0 766.5,1034.2 768.5,1031.4 770.5,1028.5 772.5,1025.7 774.5,1022.8 776.5,1020.0 778.5,1017.1 780.5,1014.2 782.5,1011.4 784.5,1008.5 786.5,1005.6 788.5,1002.7 790.5,999.8 792.5,996.9 794.5,994.0 796.5,991.1 798.5,988.2 800.5,985.3 802.5,982.3 804.5,979.4 806.5,976.5 808.5,973.6 810.5,970.6 812.5,967.7 814.5,964.8 816.5,961.8 818.5,958.9 820.5,956.0 822.5,953.0 824.5,950.1 826.5,947.2 828.5,944.2 830.5,941.3 832.5,938.4 834.5,935.4 836.5,932.5 838.5,929.6 840.5,926.6 842.5,923.7 844.5,920.7 846.5,917.8 848.5,914.9 850.5,911.9 852.5,909.0 854.5,906.0 856.5,903.1 858.5,900.1 860.5,897.2 862.5,894.3 864.5,891.3 866.5,888.4 868.5,885.4 870.5,882.5 872.5,879.5 874.5,876.6 876.5,873.6 878.5,870.7 880.5,867.7 882.5,864.8 884.5,861.8 886.5,858.9 888.5,856.0 890.5,853.0 892.5,850.1 894.5,847.1 896.5,844.2 898.5,841.2 900.5,838.3 902.5,835.3 904.5,832.4 906.5,829.5 908.5,826.5 910.5,823.6 912.5,820.6 914.5,817.7 916.5,814.8 918.5,811.9 920.5,808.9 922.5,806.0 924.5,803.1 926.5,800.2 928.5,797.3 930.5,794.4 932.5,791.5 934.5,788.6 936.5,785.7 938.5,782.8 940.5,779.9 942.5,777.1 944.5,774.2 946.5,771.3 948.5,768.5 950.5,765.6 952.5,762.8 954.5,759.9 956.5,757.1 958.5,754.3 960.5,751.5 962.5,748.7 964.5,745.9 966.5,743.1 968.5,740.3 970.5,737.6 972.5,734.8 974.5,732.1 976.5,729.3 978.5,726.6 980.5,723.9 982.5,721.2 984.5,718.6 986.5,715.9 988.5,713.3 990.5,710.6 992.5,708.0 994.5,705.4 996.5,702.8 998.5,700.3 1000.5,697.7 1002.5,695.2 1004.5,692.7 1006.5,690.2 1008.5,687.7 1010.5,685.3 1012.5,682.8 1014.5,680.4 1016.5,678.0 1018.5,675.7 1020.5,673.4 1022.5,671.1 1024.5,668.8 1026.5,666.5 1028.5,664.3 1030.5,662.1 1032.5,660.0 1034.5,657.9 1036.5,655.8 1038.5,653.7 1040.5,651.7 1042.5,649.7 1044.5,647.8 1046.5,645.9 1048.5,644.0 1050.5,642.2 1052.5,640.5 1054.5,638.7 1056.5,637.0 1058.5,635.4 1060.5,633.8 1062.5,632.2 1064.5,630.7 1066.5,629.2 1068.5,627.8 1070.5,626.4 1072.5,625.1 1074.5,623.8 1076.5,622.6 1078.5,621.3 1080.5,620.2 1082.5,619.0 1084.5,617.9 1086.5,616.9 1088.5,615.9 1090.5,614.9 1092.5,613.9 1094.5,613.0 1096.5,612.1 1098.5,611.3 1100.5,610.4 1102.5,609.6 1104.5,608.9 1106.5,608.2 1108.5,607.5 1110.5,606.8 1112.5,606.1 1114.5,605.5 1116.5,604.9 1118.5,604.4 1120.5,603.8 1122.5,603.3 1124.5,602.8 1126.5,602.3 1128.5,601.9 1130.5,601.4 1132.5,601.1 1134.5,600.7 1136.5,600.4 1138.5,600.1 1140.5,599.8 1142.5,599.5 1144.5,599.3 1146.5,599.2 1148.5,599.0 1150.5,598.9 1152.5,598.9 1154.5,598.8 1156.5,598.8 1158.5,598.9 1160.5,599.0 1162.5,599.1 1164.5,599.3 1166.5,599.5 1168.5,599.8 1170.5,600.1 1172.5,600.4 1174.5,600.8 1176.5,601.3 1178.5,601.8 1180.5,602.3 1182.5,602.9 1184.5,603.6 1186.5,604.3 1188.5,605.0 1190.5,605.8 1192.5,606.7 1194.5,607.6 1196.5,608.5 1198.5,609.5 1200.5,610.5 1202.5,611.6 1204.5,612.7 1206.5,613.8 1208.5,615.0 1210.5,616.3 1212.5,617.6 1214.5,618.9 1216.5,620.3 1218.5,621.7 1220.5,623.1 1222.5,624.6 1224.5,626.2 1226.5,627.7 1228.5,629.3 1230.5,631.0 1232.5,632.7 1234.5,634.4 1236.5,636.1 1238.5,637.9 1240.5,639.8 1242.5,641.6 1244.5,643.5 1246.5,645.4 1248.5,647.4 1250.5,649.4 1252.5,651.4 1254.5,653.5 1256.5,655.6 1258.5,657.7 1260.5,659.9 1262.5,662.1 1264.5,664.4 1266.5,666.6 1268.5,669.0 1270.5,671.3 1272.5,673.7 1274.5,676.1 1276.5,678.6 1278.5,681.1 1280.5,683.6 1282.5,686.2 1284.5,688.8 1286.5,691.4 1288.5,694.1 1290.5,696.8 1292.5,699.6 1294.5,702.4 1296.5,705.2 1298.5,708.1 1300.5,711.0 1302.5,713.9 1304.5,716.9 1306.5,719.9 1308.5,723.0 1310.5,726.1 1312.5,729.2 1314.5,732.4 1316.5,735.5 1318.5,738.8 1320.5,742.0 1322.5,745.3 1324.5,748.7 1326.5,752.0 1328.5,755.4 1330.5,758.8 1332.5,762.3 1334.5,765.7 1336.5,769.2 1338.5,772.8 1340.5,776.3 1342.5,779.9 1344.5,783.5 1346.5,787.2 1348.5,790.8 1350.5,794.5 1352.5,798.2 1354.5,802.0 1356.5,805.7 1358.5,809.5 1360.5,813.3 1362.5,817.2 1364.5,821.0 1366.5,824.9 1368.5,828.8 1370.5,832.7 1372.5,836.6 1374.5,840.5 1376.5,844.5 1378.5,848.4 1380.5,852.4 1382.5,856.4 1384.5,860.4 1386.5,864.4 1388.5,868.5 1390.5,872.5 1392.5,876.5 1394.5,880.6 1396.5,884.7 1398.5,888.7 1400.5,892.8 1402.5,896.9 1404.5,900.9 1406.5,905.0 1408.5,909.1 1410.5,913.2 1412.5,917.3 1414.5,921.3 1416.5,925.4 1418.5,929.5 1420.5,933.6 1422.5,937.6 1424.5,941.7 1426.5,945.7 1428.5,949.8 1430.5,953.8 1432.5,957.9 1434.5,961.9 1436.5,965.9 1438.5,969.9 1440.5,973.9 1442.5,977.9 1444.5,981.8 1446.5,985.8 1448.5,989.7 1450.5,993.6 1452.5,997.5 1454.5,1001.4 1456.5,1005.3 1458.5,1009.2 1460.5,1013.0 1462.5,1016.8 1464.5,1020.6 1466.5,1024.4 1468.5,1028.1 1470.5,1031.9 1472.5,1035.6 1474.5,1039.3 1476.5,1042.9 1478.5,1046.6 1480.5,1050.2 1482.5,1053.8 1484.5,1057.3 1486.5,1060.8 1488.5,1064.3 1490.5,1067.8 1492.5,1071.3 1494.5,1074.7 1496.5,1078.1 1498.5,1081.5 1500.5,1084.8 1502.5,1088.1 1504.5,1091.4 1506.5,1094.7 1508.5,1098.0 1510.5,1101.2 1512.5,1104.4 1514.5,1107.6 1516.5,1110.7 1518.5,1113.9 1520.5,1117.0 1522.5,1120.1 1524.5,1123.1 1526.5,1126.2 1528.5,1129.2 1530.5,1132.2 1532.5,1135.2 1534.5,1138.2 1536.5,1141.1 1538.5,1144.0 1540.5,1146.9 1542.5,1149.8 1544.5,1152.6 1546.5,1155.5 1548.5,1158.3 1550.5,1161.1 1552.5,1163.8 1554.5,1166.6 1556.5,1169.3 1558.5,1172.0 1560.5,1174.6 1562.5,1177.3 1564.5,1179.9 1566.5,1182.5 1568.5,1185.0 1570.5,1187.6 1572.5,1190.1 1574.5,1192.5 1576.5,1195.0 1578.5,1197.4 1580.5,1199.7 1582.5,1202.1 1584.5,1204.4 1586.5,1206.7 1588.5,1208.9 1590.5,1211.1 1592.5,1213.3 1594.5,1215.5 1596.5,1217.6 1598.5,1219.6 1600.5,1221.7 1602.5,1223.7 1604.5,1225.6 1606.5,1227.5 1608.5,1229.4 1610.5,1231.3 1612.5,1233.1 1614.5,1234.9 1616.5,1236.6 1618.5,1238.3 1620.5,1240.0 1622.5,1241.7 1624.5,1243.3 1626.5,1244.9 1628.5,1246.4 1630.5,1248.0 1632.5,1249.5 1634.5,1251.0 1636.5,1252.4 1638.5,1253.9 1640.5,1255.3 1642.5,1256.7 1644.5,1258.0 1646.5,1259.4 1648.5,1260.7 1650.5,1262.0 1652.5,1263.2 1654.5,1264.5 1656.5,1265.7 1658.5,1266.9 1660.5,1268.1 1662.5,1269.3 1664.5,1270.5 1666.5,1271.6 1668.5,1272.8 1670.5,1273.9 1672.5,1275.0 1674.5,1276.0 1676.5,1277.1 1678.5,1278.2 1680.5,1279.2 1682.5,1280.2 1684.5,1281.2 1686.5,1282.1 1688.5,1283.1 1690.5,1284.0 1692.5,1285.0 1694.5,1285.9 1696.5,1286.7 1698.5,1287.6 1700.5,1288.5 1702.5,1289.3 1704.5,1290.1 1706.5,1290.9 1708.5,1291.7 1710.5,1292.4 1712.5,1293.2 1714.5,1293.9 1716.5,1294.6 1718.5,1295.3 1720.5,1296.0 1722.5,1296.6 1724.5,1297.2 1726.5,1297.9 1728.5,1298.5 1730.5,1299.0 1732.5,1299.6 1734.5,1300.2 1736.5,1300.7 1738.5,1301.2 1740.5,1301.7 1742.5,1302.2 1744.5,1302.7 1746.5,1303.2 1748.5,1303.6 1750.5,1304.0 1752.5,1304.5 1754.5,1304.9 1756.5,1305.3 1758.5,1305.7 1760.5,1306.1 1762.5,1306.5 1764.5,1306.8 1766.5,1307.2 1768.5,1307.5 1770.5,1307.9 1772.5,1308.2 1774.5,1308.6 1776.5,1308.9 1778.5,1309.2 1780.5,1309.5 1782.5,1309.8 1784.5,1310.1 1786.5,1310.4 1788.5,1310.7 1790.5,1311.0 1792.5,1311.3 1794.5,1311.6 1796.5,1311.8 1798.5,1312.1 1800.5,1312.4 1802.5,1312.6 1804.5,1312.9 1806.5,1313.1 1808.5,1313.4 1810.5,1313.6 1812.5,1313.9 1814.5,1314.1 1816.5,1314.3 1818.5,1314.5 1820.5,1314.7 1822.5,1314.9 1824.5,1315.2 1826.5,1315.4 1828.5,1315.5 1830.5,1315.7 1832.5,1315.9 1834.5,1316.1 1836.5,1316.3 1838.5,1316.5 1840.5,1316.6 1842.5,1316.8 1844.5,1316.9 1846.5,1317.1 1848.5,1317.2 1850.5,1317.4 1852.5,1317.5 1854.5,1317.7 1856.5,1317.8 1858.5,1317.9 1860.5,1318.0 1862.5,1318.2 1864.5,1318.3 1866.5,1318.4 1868.5,1318.5 1870.5,1318.6 1872.5,1318.7 1874.5,1318.8 1876.5,1318.9 1878.5,1319.0 1880.5,1319.1 1882.5,1319.2 1884.5,1319.3 1886.5,1319.3 1888.5,1319.4 1890.5,1319.5 1892.5,1319.6 1894.5,1319.6 1896.5,1319.7 1898.5,1319.8 1900.5,1319.8 1902.5,1319.9 1904.5,1320.0 1906.5,1320.0 1908.5,1320.1 1910.5,1320.1 1912.5,1320.2 1914.5,1320.3 1916.5,1320.3 1918.5,1320.4 1920.5,1320.4 1922.5,1320.5 1924.5,1320.5 1926.5,1320.5 1928.5,1320.6 1930.5,1320.6 1932.5,1320.7 1934.5,1320.7 1936.5,1320.8 1938.5,1320.8 1940.5,1320.8 1942.5,1320.9 1944.5,1320.9 1946.5,1320.9 1948.5,1321.0 1950.5,1321.0 1952.5,1321.0 1954.5,1321.1 1956.5,1321.1 1958.5,1321.1 1960.5,1321.2 1962.5,1321.2 1964.5,1321.2 1966.5,1321.2 1968.5,1321.3 1970.5,1321.3 1972.5,1321.3 1974.5,1321.4 1976.5,1321.4 1978.5,1321.4 1980.5,1321.4 1982.5,1321.5 1984.5,1321.5 1986.5,1321.5 1988.5,1321.5 1990.5,1321.6 1992.5,1321.6 1994.5,1321.6 1996.5,1321.6 1998.5,1321.7 2000.5,1321.7 2002.5,1321.7 2004.5,1321.7 2006.5,1321.8 2008.5,1321.8 2010.5,1321.8 2012.5,1321.8 2014.5,1321.9 2016.5,1321.9 2018.5,1321.9 2020.5,1322.0 2022.5,1322.0 2024.5,1322.0 2026.5,1322.0 2028.5,1322.1 2030.5,1322.1 2032.5,1322.1 2034.5,1322.2 2036.5,1322.2 2038.5,1322.2 2040.5,1322.2 2042.5,1322.3 2044.5,1322.3 2046.5,1322.3 2048.5,1322.4 2050.5,1322.4 2052.5,1322.4 2054.5,1322.4 2056.5,1322.5 2058.5,1322.5 2060.5,1322.5 2062.5,1322.6 2064.5,1322.6 2066.5,1322.6 2068.5,1322.6 2070.5,1322.7 2072.5,1322.7 2074.5,1322.7 2076.5,1322.7 2078.5,1322.7 2080.5,1322.8 2082.5,1322.8 2084.5,1322.8 2086.5,1322.8 2088.5,1322.8 2090.5,1322.8 2092.5,1322.9 2094.5,1322.9 2096.5,1322.9 2098.5,1322.9 2100.5,1322.9 2102.5,1322.9 2104.5,1322.9 2106.5,1322.9 2108.5,1322.9 2110.5,1322.9 2112.5,1323.0 2114.5,1323.0 2116.5,1323.0 2118.5,1323.0 2120.5,1323.0 2122.5,1323.0 2124.5,1323.0 2126.5,1323.0 2128.5,1323.0 2130.5,1323.0 2132.5,1323.0 2134.5,1323.0 2136.5,1323.1 2138.5,1323.1 2140.5,1323.1 2142.5,1323.1 2144.5,1323.1 2146.5,1323.1 2148.5,1323.1 2150.5,1323.1 2152.5,1323.1 2154.5,1323.2 2156.5,1323.2 2158.5,1323.2 2160.5,1323.2 2162.5,1323.2 2164.5,1323.2 2166.5,1323.2 2168.5,1323.2 2170.5,1323.3 2172.5,1323.3 2174.5,1323.3 2176.5,1323.3 2178.5,1323.3 2180.5,1323.3 2182.5,1323.3 2184.5,1323.3 2186.5,1323.3 2188.5,1323.3 2190.5,1323.3" stroke="#ff0000"/>
<path d="M288.5,1037.3 290.5,1036.7 292.5,1036.0 294.5,1035.4 296.5,1034.8 298.5,1034.2 300.5,1033.6 302.5,1033.0 304.5,1032.4 306.5,1031.8 308.5,1031.3 310.5,1030.7 312.5,1030.1 314.5,1029.6 316.5,1029.1 318.5,1028.5 320.5,1028.0 322.5,1027.5 324.5,1027.1 326.5,1026.6 328.5,1026.2 330.5,1025.7 332.5,1025.3 334.5,1024.9 336.5,1024.5 338.5,1024.2 340.5,1023.9 342.5,1023.5 344.5,1023.2 346.5,1023.0 348.5,1022.7 350.5,1022.4 352.5,1022.2 354.5,1021.9 356.5,1021.7 358.5,1021.5 360.5,1021.3 362.5,1021.1 364.5,1020.9 366.5,1020.7 368.5,1020.5 370.5,1020.3 372.5,1020.1 374.5,1019.9 376.5,1019.7 378.5,1019.5 380.5,1019.3 382.5,1019.1 384.5,1018.9 386.5,1018.7 388.5,1018.5 390.5,1018.3 392.5,1018.1 394.5,1017.9 396.5,1017.7 398.5,1017.6 400.5,1017.5 402.5,1017.4 404.5,1017.4 406.5,1017.4 408.5,1017.4 410.5,1017.5 412.5,1017.6 414.5,1017.8 416.5,1018.1 418.5,1018.4 420.5,1018.7 422.5,1019.1 424.5,1019.6 426.5,1020.2 428.5,1020.9 430.5,1021.6 432.5,1022.3 434.5,1023.2 436.5,1024.1 438.5,1025.0 440.5,1026.1 442.5,1027.1 444.5,1028.2 446.5,1029.3 448.5,1030.5 450.5,1031.7 452.5,1032.9 454.5,1034.2 456.5,1035.4 458.5,1036.7 460.5,1038.0 462.5,1039.3 464.5,1040.6 466.5,1041.9 468.5,1043.2 470.5,1044.5 472.5,1045.7 474.5,1047.0 476.5,1048.2 478.5,1049.5 480.5,1050.7 482.5,1051.9 484.5,1053.1 486.5,1054.3 488.5,1055.5 490.5,1056.7 492.5,1057.8 494.5,1059.0 496.5,1060.2 498.5,1061.3 500.5,1062.5 502.5,1063.7 504.5,1064.9 506.5,1066.0 508.5,1067.2 510.5,1068.4 512.5,1069.6 514.5,1070.8 516.5,1072.0 518.5,1073.2 520.5,1074.4 522.5,1075.6 524.5,1076.8 526.5,1078.1 528.5,1079.3 530.5,1080.5 532.5,1081.8 534.5,1083.0 536.5,1084.3 538.5,1085.5 540.5,1086.7 542.5,1088.0 544.5,1089.2 546.5,1090.4 548.5,1091.7 550.5,1092.9 552.5,1094.1 554.5,1095.3 556.5,1096.5 558.5,1097.7 560.5,1098.9 562.5,1100.1 564.5,1101.2 566.5,1102.4 568.5,1103.5 570.5,1104.6 572.5,1105.7 574.5,1106.8 576.5,1107.9 578.5,1108.9 580.5,1109.9 582.5,1110.9 584.5,1111.9 586.5,1112.9 588.5,1113.8 590.5,1114.7 592.5,1115.6 594.5,1116.4 596.5,1117.2 598.5,1118.0 600.5,1118.8 602.5,1119.5 604.5,1120.2 606.5,1120.8 608.5,1121.4 610.5,1122.0 612.5,1122.5 614.5,1123.0 616.5,1123.5 618.5,1123.9 620.5,1124.3 622.5,1124.6 624.5,1125.0 626.5,1125.3 628.5,1125.5 630.5,1125.7 632.5,1125.9 634.5,1126.1 636.5,1126.2 638.5,1126.3 640.5,1126.4 642.5,1126.4 644.5,1126.4 646.5,1126.4 648.5,1126.3 650.5,1126.2 652.5,1126.1 654.5,1126.0 656.5,1125.8 658.5,1125.6 660.5,1125.4 662.5,1125.1 664.5,1124.9 666.5,1124.6 668.5,1124.3 670.5,1123.9 672.5,1123.6 674.5,1123.2 676.5,1122.8 678.5,1122.4 680.5,1122.0 682.5,1121.6 684.5,1121.2 686.5,1120.7 688.5,1120.3 690.5,1119.8 692.5,1119.3 694.5,1118.8 696.5,1118.3 698.5,1117.8 700.5,1117.3 702.5,1116.8 704.5,1116.3 706.5,1115.7 708.5,1115.2 710.5,1114.6 712.5,1114.1 714.5,1113.5 716.5,1112.9 718.5,1112.3 720.5,1111.7 722.5,1111.1 724.5,1110.4 726.5,1109.7 728.5,1109.0 730.5,1108.3 732.5,1107.6 734.5,1106.9 736.5,1106.1 738.5,1105.3 740.5,1104.5 742.5,1103.7 744.5,1102.8 746.5,1101.9 748.5,1101.0 750.5,1100.1 752.5,1099.1 754.5,1098.1 756.5,1097.1 758.5,1096.1 760.5,1095.1 762.5,1094.0 764.5,1092.9 766.5,1091.8 768.5,1090.7 770.5,1089.5 772.5,1088.4 774.5,1087.2 776.5,1086.0 778.5,1084.7 780.5,1083.5 782.5,1082.2 784.5,1081.0 786.5,1079.7 788.5,1078.4 790.5,1077.0 792.5,1075.7 794.5,1074.3 796.5,1073.0 798.5,1071.6 800.5,1070.2 802.5,1068.8 804.5,1067.4 806.5,1065.9 808.5,1064.5 810.5,1063.0 812.5,1061.5 814.5,1060.0 816.5,1058.5 818.5,1057.0 820.5,1055.4 822.5,1053.9 824.5,1052.3 826.5,1050.7 828.5,1049.1 830.5,1047.4 832.5,1045.8 834.5,1044.1 836.5,1042.5 838.5,1040.8 840.5,1039.0 842.5,1037.3 844.5,1035.6 846.5,1033.8 848.5,1032.0 850.5,1030.2 852.5,1028.4 854.5,1026.5 856.5,1024.7 858.5,1022.8 860.5,1020.9 862.5,1018.9 864.5,1017.0 866.5,1015.0 868.5,1013.1 870.5,1011.1 872.5,1009.0 874.5,1007.0 876.5,1004.9 878.5,1002.9 880.5,1000.8 882.5,998.7 884.5,996.6 886.5,994.4 888.5,992.3 890.5,990.1 892.5,988.0 894.5,985.8 896.5,983.6 898.5,981.3 900.5,979.1 902.5,976.9 904.5,974.6 906.5,972.4 908.5,970.1 910.5,967.8 912.5,965.5 914.5,963.2 916.5,960.9 918.5,958.6 920.5,956.2 922.5,953.9 924.5,951.5 926.5,949.2 928.5,946.8 930.5,944.4 932.5,942.0 934.5,939.7 936.5,937.3 938.5,934.9 940.5,932.5 942.5,930.0 944.5,927.6 946.5,925.2 948.5,922.8 950.5,920.3 952.5,917.9 954.5,915.5 956.5,913.0 958.5,910.6 960.5,908.1 962.5,905.6 964.5,903.2 966.5,900.7 968.5,898.2 970.5,895.8 972.5,893.3 974.5,890.8 976.5,888.3 978.5,885.8 980.5,883.3 982.5,880.8 984.5,878.3 986.5,875.9 988.5,873.4 990.5,870.9 992.5,868.4 994.5,865.9 996.5,863.4 998.5,860.9 1000.5,858.4 1002.5,855.9 1004.5,853.4 1006.5,850.9 1008.5,848.4 1010.5,845.9 1012.5,843.4 1014.5,840.9 1016.5,838.4 1018.5,835.9 1020.5,833.4 1022.5,830.9 1024.5,828.4 1026.5,826.0 1028.5,823.5 1030.5,821.0 1032.5,818.6 1034.5,816.1 1036.5,813.6 1038.5,811.2 1040.5,808.7 1042.5,806.3 1044.5,803.9 1046.5,801.4 1048.5,799.0 1050.5,796.6 1052.5,794.2 1054.5,791.8 1056.5,789.4 1058.5,787.0 1060.5,784.6 1062.5,782.3 1064.5,779.9 1066.5,777.6 1068.5,775.2 1070.5,772.9 1072.5,770.6 1074.5,768.3 1076.5,766.0 1078.5,763.7 1080.5,761.4 1082.5,759.1 1084.5,756.9 1086.5,754.6 1088.5,752.4 1090.5,750.2 1092.5,747.9 1094.5,745.7 1096.5,743.6 1098.5,741.4 1100.5,739.2 1102.5,737.1 1104.5,734.9 1106.5,732.8 1108.5,730.7 1110.5,728.6 1112.5,726.5 1114.5,724.5 1116.5,722.4 1118.5,720.4 1120.5,718.3 1122.5,716.3 1124.5,714.3 1126.5,712.4 1128.5,710.4 1130.5,708.4 1132.5,706.5 1134.5,704.6 1136.5,702.7 1138.5,700.8 1140.5,698.9 1142.5,697.1 1144.5,695.3 1146.5,693.4 1148.5,691.6 1150.5,689.9 1152.5,688.1 1154.5,686.4 1156.5,684.6 1158.5,682.9 1160.5,681.3 1162.5,679.6 1164.5,677.9 1166.5,676.3 1168.5,674.7 1170.5,673.1 1172.5,671.6 1174.5,670.0 1176.5,668.5 1178.5,667.0 1180.5,665.5 1182.5,664.1 1184.5,662.6 1186.5,661.2 1188.5,659.8 1190.5,658.5 1192.5,657.1 1194.5,655.8 1196.5,654.5 1198.5,653.3 1200.5,652.0 1202.5,650.8 1204.5,649.6 1206.5,648.4 1208.5,647.3 1210.5,646.2 1212.5,645.1 1214.5,644.0 1216.5,643.0 1218.5,642.0 1220.5,641.0 1222.5,640.0 1224.5,639.1 1226.5,638.2 1228.5,637.3 1230.5,636.5 1232.5,635.6 1234.5,634.8 1236.5,634.1 1238.5,633.3 1240.5,632.6 1242.5,631.9 1244.5,631.3 1246.5,630.7 1248.5,630.1 1250.5,629.5 1252.5,628.9 1254.5,628.4 1256.5,628.0 1258.5,627.5 1260.5,627.1 1262.5,626.7 1264.5,626.3 1266.5,626.0 1268.5,625.7 1270.5,625.4 1272.5,625.1 1274.5,624.9 1276.5,624.7 1278.5,624.6 1280.5,624.5 1282.5,624.4 1284.5,624.3 1286.5,624.3 1288.5,624.3 1290.5,624.3 1292.5,624.3 1294.5,624.4 1296.5,624.5 1298.5,624.6 1300.5,624.8 1302.5,625.0 1304.5,625.2 1306.5,625.4 1308.5,625.7 1310.5,625.9 1312.5,626.2 1314.5,626.6 1316.5,626.9 1318.5,627.3 1320.5,627.6 1322.5,628.1 1324.5,628.5 1326.5,628.9 1328.5,629.4 1330.5,629.9 1332.5,630.4 1334.5,630.9 1336.5,631.4 1338.5,632.0 1340.5,632.6 1342.5,633.2 1344.5,633.8 1346.5,634.4 1348.5,635.0 1350.5,635.7 1352.5,636.3 1354.5,637.0 1356.5,637.7 1358.5,638.4 1360.5,639.1 1362.5,639.9 1364.5,640.7 1366.5,641.5 1368.5,642.3 1370.5,643.1 1372.5,644.0 1374.5,644.9 1376.5,645.8 1378.5,646.7 1380.5,647.7 1382.5,648.7 1384.5,649.7 1386.5,650.7 1388.5,651.8 1390.5,652.9 1392.5,654.1 1394.5,655.2 1396.5,656.5 1398.5,657.7 1400.5,659.0 1402.5,660.3 1404.5,661.6 1406.5,663.0 1408.5,664.4 1410.5,665.9 1412.5,667.4 1414.5,668.9 1416.5,670.5 1418.5,672.1 1420.5,673.8 1422.5,675.5 1424.5,677.3 1426.5,679.0 1428.5,680.9 1430.5,682.7 1432.5,684.6 1434.5,686.6 1436.5,688.6 1438.5,690.6 1440.5,692.6 1442.5,694.7 1444.5,696.8 1446.5,699.0 1448.5,701.1 1450.5,703.4 1452.5,705.6 1454.5,707.9 1456.5,710.2 1458.5,712.5 1460.5,714.9 1462.5,717.3 1464.5,719.7 1466.5,722.1 1468.5,724.6 1470.5,727.1 1472.5,729.6 1474.5,732.2 1476.5,734.7 1478.5,737.3 1480.5,739.9 1482.5,742.5 1484.5,745.2 1486.5,747.9 1488.5,750.5 1490.5,753.3 1492.5,756.0 1494.5,758.7 1496.5,761.5 1498.5,764.3 1500.5,767.1 1502.5,769.9 1504.5,772.7 1506.5,775.6 1508.5,778.5 1510.5,781.4 1512.5,784.3 1514.5,787.3 1516.5,790.3 1518.5,793.3 1520.5,796.3 1522.5,799.3 1524.5,802.4 1526.5,805.5 1528.5,808.6 1530.5,811.8 1532.5,814.9 1534.5,818.1 1536.5,821.3 1538.5,824.6 1540.5,827.9 1542.5,831.2 1544.5,834.5 1546.5,837.8 1548.5,841.2 1550.5,844.6 1552.5,848.1 1554.5,851.5 1556.5,855.0 1558.5,858.6 1560.5,862.1 1562.5,865.7 1564.5,869.3 1566.5,872.9 1568.5,876.6 1570.5,880.3 1572.5,884.0 1574.5,887.7 1576.5,891.4 1578.5,895.1 1580.5,898.9 1582.5,902.6 1584.5,906.4 1586.5,910.2 1588.5,914.0 1590.5,917.7 1592.5,921.5 1594.5,925.3 1596.5,929.1 1598.5,932.9 1600.5,936.6 1602.5,940.4 1604.5,944.1 1606.5,947.9 1608.5,951.6 1610.5,955.3 1612.5,959.0 1614.5,962.7 1616.5,966.4 1618.5,970.0 1620.5,973.6 1622.5,977.2 1624.5,980.8 1626.5,984.3 1628.5,987.8 1630.5,991.3 1632.5,994.7 1634.5,998.2 1636.5,1001.5 1638.5,1004.9 1640.5,1008.2 1642.5,1011.5 1644.5,1014.8 1646.5,1018.1 1648.5,1021.3 1650.5,1024.5 1652.5,1027.7 1654.5,1030.9 1656.5,1034.0 1658.5,1037.2 1660.5,1040.3 1662.5,1043.4 1664.5,1046.4 1666.5,1049.5 1668.5,1052.5 1670.5,1055.5 1672.5,1058.6 1674.5,1061.5 1676.5,1064.5 1678.5,1067.5 1680.5,1070.4 1682.5,1073.4 1684.5,1076.3 1686.5,1079.2 1688.5,1082.2 1690.5,1085.1 1692.5,1088.0 1694.5,1090.8 1696.5,1093.7 1698.5,1096.6 1700.5,1099.5 1702.5,1102.4 1704.5,1105.2 1706.5,1108.1 1708.5,1110.9 1710.5,1113.7 1712.5,1116.6 1714.5,1119.4 1716.5,1122.2 1718.5,1125.0 1720.5,1127.8 1722.5,1130.5 1724.5,1133.3 1726.5,1136.0 1728.5,1138.7 1730.5,1141.4 1732.5,1144.1 1734.5,1146.7 1736.5,1149.4 1738.5,1152.0 1740.5,1154.6 1742.5,1157.2 1744.5,1159.7 1746.5,1162.2 1748.5,1164.7 1750.5,1167.2 1752.5,1169.7 1754.5,1172.1 1756.5,1174.5 1758.5,1176.8 1760.5,1179.2 1762.5,1181.5 1764.5,1183.7 1766.5,1186.0 1768.5,1188.2 1770.5,1190.4 1772.5,1192.5 1774.5,1194.6 1776.5,1196.7 1778.5,1198.7 1780.5,1200.7 1782.5,1202.7 1784.5,1204.7 1786.5,1206.6 1788.5,1208.5 1790.5,1210.4 1792.5,1212.2 1794.5,1214.0 1796.5,1215.8 1798.5,1217.6 1800.5,1219.3 1802.5,1221.0 1804.5,1222.7 1806.5,1224.4 1808.5,1226.0 1810.5,1227.7 1812.5,1229.3 1814.5,1230.9 1816.5,1232.4 1818.5,1233.9 1820.5,1235.5 1822.5,1237.0 1824.5,1238.4 1826.5,1239.9 1828.5,1241.4 1830.5,1242.8 1832.5,1244.2 1834.5,1245.6 1836.5,1247.0 1838.5,1248.4 1840.5,1249.7 1842.5,1251.0 1844.5,1252.4 1846.5,1253.7 1848.5,1255.0 1850.5,1256.3 1852.5,1257.5 1854.5,1258.8 1856.5,1260.0 1858.5,1261.2 1860.5,1262.4 1862.5,1263.6 1864.5,1264.8 1866.5,1266.0 1868.5,1267.1 1870.5,1268.2 1872.5,1269.3 1874.5,1270.4 1876.5,1271.5 1878.5,1272.6 1880.5,1273.6 1882.5,1274.7 1884.5,1275.7 1886.5,1276.7 1888.5,1277.6 1890.5,1278.6 1892.5,1279.6 1894.5,1280.5 1896.5,1281.4 1898.5,1282.3 1900.5,1283.2 1902.5,1284.0 1904.5,1284.9 1906.5,1285.7 1908.5,1286.5 1910.5,1287.3 1912.5,1288.1 1914.5,1288.8 1916.5,1289.6 1918.5,1290.3 1920.5,1291.0 1922.5,1291.7 1924.5,1292.3 1926.5,1293.0 1928.5,1293.7 1930.5,1294.3 1932.5,1294.9 1934.5,1295.5 1936.5,1296.1 1938.5,1296.7 1940.5,1297.2 1942.5,1297.8 1944.5,1298.3 1946.5,1298.9 1948.5,1299.4 1950.5,1299.9 1952.5,1300.4 1954.5,1300.9 1956.5,1301.4 1958.5,1301.8 1960.5,1302.3 1962.5,1302.7 1964.5,1303.2 1966.5,1303.6 1968.5,1304.0 1970.5,1304.4 1972.5,1304.9 1974.5,1305.3 1976.5,1305.7 1978.5,1306.1 1980.5,1306.4 1982.5,1306.8 1984.5,1307.2 1986.5,1307.6 1988.5,1307.9 1990.5,1308.3 1992.5,1308.6 1994.5,1309.0 1996.5,1309.3 1998.5,1309.6 2000.5,1310.0 2002.5,1310.3 2004.5,1310.6 2006.5,1310.9 2008.5,1311.2 2010.5,1311.5 2012.5,1311.8 2014.5,1312.1 2016.5,1312.4 2018.5,1312.6 2020.5,1312.9 2022.5,1313.2 2024.5,1313.4 2026.5,1313.7 2028.5,1313.9 2030.5,1314.2 2032.5,1314.4 2034.5,1314.6 2036.5,1314.8 2038.5,1315.0 2040.5,1315.2 2042.5,1315.4 2044.5,1315.6 2046.5,1315.8 2048.5,1316.0 2050.5,1316.2 2052.5,1316.3 2054.5,1316.5 2056.5,1316.6 2058.5,1316.8 2060.5,1316.9 2062.5,1317.1 2064.5,1317.2 2066.5,1317.3 2068.5,1317.5 2070.5,1317.6 2072.5,1317.7 2074.5,1317.8 2076.5,1317.9 2078.5,1318.0 2080.5,1318.1 2082.5,1318.2 2084.5,1318.3 2086.5,1318.4 2088.5,1318.5 2090.5,1318.5 2092.5,1318.6 2094.5,1318.7 2096.5,1318.8 2098.5,1318.9 2100.5,1318.9 2102.5,1319.0 2104.5,1319.1 2106.5,1319.1 2108.5,1319.2 2110.5,1319.3 2112.5,1319.3 2114.5,1319.4 2116.5,1319.4 2118.5,1319.5 2120.5,1319.6 2122.5,1319.6 2124.5,1319.7 2126.5,1319.7 2128.5,1319.8 2130.5,1319.8 2132.5,1319.9 2134.5,1320.0 2136.5,1320.0 2138.5,1320.1 2140.5,1320.1 2142.5,1320.2 2144.5,1320.2 2146.5,1320.3 2148.5,1320.3 2150.5,1320.4 2152.5,1320.4 2154.5,1320.5 2156.5,1320.5 2158.5,1320.5 2160.5,1320.6 2162.5,1320.6 2164.5,1320.6 2166.5,1320.7 2168.5,1320.7 2170.5,1320.7 2172.5,1320.8 2174.5,1320.8 2176.5,1320.8 2178.5,1320.8 2180.5,1320.9 2182.5,1320.9 2184.5,1320.9 2186.5,1320.9 2188.5,1320.9 2190.5,1320.9" stroke="#008000"/>
<path d="M288.5,1118.6 290.5,1117.9 292.5,1117.1 294.5,1116.3 296.5,1115.4 298.5,1114.5 300.5,1113.4 302.5,1112.4 304.5,1111.3 306.5,1110.1 308.5,1108.9 310.5,1107.7 312.5,1106.5 314.5,1105.2 316.5,1103.9 318.5,1102.6 320.5,1101.3 322.5,1100.0 324.5,1098.7 326.5,1097.5 328.5,1096.2 330.5,1094.9 332.5,1093.7 334.5,1092.5 336.5,1091.3 338.5,1090.1 340.5,1089.0 342.5,1087.9 344.5,1086.7 346.5,1085.7 348.5,1084.6 350.5,1083.5 352.5,1082.4 354.5,1081.4 356.5,1080.4 358.5,1079.3 360.5,1078.3 362.5,1077.3 364.5,1076.3 366.5,1075.2 368.5,1074.2 370.5,1073.2 372.5,1072.2 374.5,1071.2 376.5,1070.1 378.5,1069.1 380.5,1068.1 382.5,1067.1 384.5,1066.0 386.5,1065.0 388.5,1064.0 390.5,1062.9 392.5,1061.9 394.5,1060.9 396.5,1059.8 398.5,1058.8 400.5,1057.7 402.5,1056.7 404.5,1055.7 406.5,1054.6 408.5,1053.6 410.5,1052.6 412.5,1051.5 414.5,1050.5 416.5,1049.5 418.5,1048.4 420.5,1047.4 422.5,1046.4 424.5,1045.4 426.5,1044.3 428.5,1043.3 430.5,1042.3 432.5,1041.2 434.5,1040.2 436.5,1039.2 438.5,1038.1 440.5,1037.1 442.5,1036.1 444.5,1035.0 446.5,1034.0 448.5,1033.0 450.5,1031.9 452.5,1030.9 454.5,1029.9 456.5,1028.8 458.5,1027.8 460.5,1026.8 462.5,1025.7 464.5,1024.7 466.5,1023.7 468.5,1022.6 470.5,1021.6 472.5,1020.6 474.5,1019.6 476.5,1018.6 478.5,1017.6 480.5,1016.6 482.5,1015.7 484.5,1014.7 486.5,1013.8 488.5,1012.8 490.5,1011.9 492.5,1011.0 494.5,1010.1 496.5,1009.2 498.5,1008.4 500.5,1007.5 502.5,1006.7 504.5,1005.8 506.5,1005.0 508.5,1004.2 510.5,1003.4 512.5,1002.6 514.5,1001.8 516.5,1001.0 518.5,1000.2 520.5,999.4 522.5,998.6 524.5,997.8 526.5,997.1 528.5,996.3 530.5,995.5 532.5,994.8 534.5,994.0 536.5,993.2 538.5,992.4 540.5,991.7 542.5,990.9 544.5,990.2 546.5,989.4 548.5,988.7 550.5,988.0 552.5,987.2 554.5,986.5 556.5,985.8 558.5,985.1 560.5,984.4 562.5,983.8 564.5,983.1 566.5,982.5 568.5,981.9 570.5,981.3 572.5,980.7 574.5,980.1 576.5,979.5 578.5,979.0 580.5,978.5 582.5,978.0 584.5,977.5 586.5,977.0 588.5,976.5 590.5,976.1 592.5,975.7 594.5,975.3 596.5,974.9 598.5,974.5 600.5,973.6 602.5,972.4 604.5,971.7 606.5,972.2 608.5,972.7 610.5,972.7 612.5,972.4 614.5,972.2 616.5,972.0 618.5,971.8 620.5,971.6 622.5,971.5 624.5,970.6 626.5,969.5 628.5,968.9 630.5,969.9 632.5,970.9 634.5,971.3 636.5,971.7 638.5,972.1 640.5,972.4 642.5,972.2 644.5,971.3 646.5,970.2 648.5,970.0 650.5,971.4 652.5,972.8 654.5,973.4 656.5,973.8 658.5,974.3 660.5,974.8 662.5,974.8 664.5,974.6 666.5,974.8 668.5,976.2 670.5,977.7 672.5,978.6 674.5,979.3 676.5,980.1 678.5,980.8 680.5,981.2 682.5,981.3 684.5,981.9 686.5,983.4 688.5,984.9 690.5,985.9 692.5,986.8 694.5,987.7 696.5,988.7 698.5,989.6 700.5,990.5 702.5,991.5 704.5,992.4 706.5,993.4 708.5,994.3 710.5,995.3 712.5,996.3 714.5,997.2 716.5,998.2 718.5,999.1 720.5,1000.0 722.5,1001.0 724.5,1001.9 726.5,1002.8 728.5,1003.7 730.5,1004.6 732.5,1005.4 734.5,1006.3 736.5,1007.1 738.5,1007.9 740.5,1008.7 742.5,1009.4 744.5,1010.2 746.5,1010.9 748.5,1011.6 750.5,1012.3 752.5,1013.0 754.5,1013.6 756.5,1014.2 758.5,1014.8 760.5,1015.3 762.5,1015.9 764.5,1016.4 766.5,1016.9 768.5,1017.3 770.5,1017.7 772.5,1018.1 774.5,1018.5 776.5,1018.8 778.5,1019.1 780.5,1019.3 782.5,1019.6 784.5,1019.8 786.5,1020.0 788.5,1020.1 790.5,1020.2 792.5,1020.3 794.5,1020.4 796.5,1020.5 798.5,1020.5 800.5,1020.5 802.5,1020.5 804.5,1020.5 806.5,1020.4 808.5,1020.3 810.5,1020.2 812.5,1020.1 814.5,1020.0 816.5,1019.8 818.5,1019.6 820.5,1019.4 822.5,1019.2 824.5,1019.0 826.5,1018.8 828.5,1018.5 830.5,1018.2 832.5,1018.0 834.5,1017.6 836.5,1017.3 838.5,1017.0 840.5,1016.6 842.5,1016.3 844.5,1015.9 846.5,1015.5 848.5,1015.0 850.5,1014.6 852.5,1014.2 854.5,1013.7 856.5,1013.2 858.5,1012.7 860.5,1012.2 862.5,1011.6 864.5,1011.1 866.5,1010.5 868.5,1009.9 870.5,1009.3 872.5,1008.7 874.5,1008.1 876.5,1007.4 878.5,1006.8 880.5,1006.1 882.5,1005.4 884.5,1004.7 886.5,1003.9 888.5,1003.2 890.5,1002.4 892.5,1001.6 894.5,1000.8 896.5,1000.0 898.5,999.2 900.5,998.4 902.5,997.5 904.5,996.7 906.5,995.8 908.5,994.9 910.5,994.0 912.5,993.1 914.5,992.2 916.5,991.2 918.5,990.3 920.5,989.3 922.5,988.3 924.5,987.4 926.5,986.4 928.5,985.4 930.5,984.3 932.5,983.3 934.5,982.3 936.5,981.2 938.5,980.2 940.5,979.1 942.5,978.0 944.5,977.0 946.5,975.9 948.5,974.8 950.5,973.7 952.5,972.6 954.5,971.4 956.5,970.3 958.5,969.2 960.5,968.0 962.5,966.9 964.5,965.7 966.5,964.6 968.5,963.4 970.5,962.2 972.5,961.1 974.5,959.9 976.5,958.7 978.5,957.5 980.5,956.3 982.5,955.2 984.5,954.0 986.5,952.8 988.5,951.6 990.5,950.4 992.5,949.2 994.5,948.0 996.5,946.8 998.5,945.6 1000.5,944.4 1002.5,943.2 1004.5,942.0 1006.5,940.8 1008.5,939.6 1010.5,938.4 1012.5,937.2 1014.5,936.0 1016.5,934.8 1018.5,933.6 1020.5,932.5 1022.5,931.3 1024.5,930.1 1026.5,928.9 1028.5,927.8 1030.5,926.6 1032.5,925.5 1034.5,924.3 1036.5,923.2 1038.5,922.0 1040.5,920.9 1042.5,919.7 1044.5,918.6 1046.5,917.5 1048.5,916.4 1050.5,915.2 1052.5,914.1 1054.5,913.0 1056.5,911.9 1058.5,910.8 1060.5,909.7 1062.5,908.6 1064.5,907.5 1066.5,906.4 1068.5,905.3 1070.5,904.2 1072.5,903.1 1074.5,902.1 1076.5,901.0 1078.5,899.9 1080.5,898.8 1082.5,897.7 1084.5,896.7 1086.5,895.6 1088.5,894.5 1090.5,893.4 1092.5,892.4 1094.5,891.3 1096.5,890.2 1098.5,889.2 1100.5,888.1 1102.5,887.0 1104.5,886.0 1106.5,884.9 1108.5,883.9 1110.5,882.8 1112.5,881.7 1114.5,880.7 1116.5,879.6 1118.5,878.6 1120.5,877.5 1122.5,876.5 1124.5,875.4 1126.5,874.4 1128.5,873.3 1130.5,872.3 1132.5,871.2 1134.5,870.2 1136.5,869.2 1138.5,868.2 1140.5,867.2 1142.5,866.2 1144.5,865.2 1146.5,864.2 1148.5,863.2 1150.5,862.2 1152.5,861.2 1154.5,860.3 1156.5,859.3 1158.5,858.3 1160.5,857.4 1162.5,856.5 1164.5,855.6 1166.5,854.6 1168.5,853.7 1170.5,852.9 1172.5,852.0 1174.5,851.1 1176.5,850.3 1178.5,849.4 1180.5,848.6 1182.5,847.8 1184.5,847.0 1186.5,846.2 1188.5,845.4 1190.5,844.6 1192.5,843.9 1194.5,843.2 1196.5,842.4 1198.5,841.7 1200.5,841.0 1202.5,840.4 1204.5,839.7 1206.5,839.1 1208.5,838.4 1210.5,837.8 1212.5,837.2 1214.5,836.6 1216.5,836.0 1218.5,835.5 1220.5,834.9 1222.5,834.4 1224.5,833.9 1226.5,833.4 1228.5,832.9 1230.5,832.4 1232.5,831.9 1234.5,831.5 1236.5,831.1 1238.5,830.7 1240.5,830.3 1242.5,829.9 1244.5,829.5 1246.5,829.2 1248.5,828.8 1250.5,828.5 1252.5,828.2 1254.5,827.9 1256.5,827.6 1258.5,827.4 1260.5,827.1 1262.5,826.9 1264.5,826.7 1266.5,826.5 1268.5,826.3 1270.5,826.1 1272.5,826.0 1274.5,825.8 1276.5,825.7 1278.5,825.6 1280.5,825.5 1282.5,825.4 1284.5,825.4 1286.5,825.3 1288.5,825.3 1290.5,825.3 1292.5,825.3 1294.5,825.3 1296.5,825.3 1298.5,825.4 1300.5,825.4 1302.5,825.5 1304.5,825.6 1306.5,825.7 1308.5,825.8 1310.5,826.0 1312.5,826.1 1314.5,826.3 1316.5,826.5 1318.5,826.7 1320.5,826.9 1322.5,827.2 1324.5,827.4 1326.5,827.7 1328.5,828.0 1330.5,828.3 1332.5,828.6 1334.5,828.9 1336.5,829.2 1338.5,829.6 1340.5,830.0 1342.5,830.3 1344.5,830.8 1346.5,831.2 1348.5,831.6 1350.5,832.1 1352.5,832.5 1354.5,833.0 1356.5,833.5 1358.5,834.0 1360.5,834.5 1362.5,835.1 1364.5,835.6 1366.5,836.2 1368.5,836.8 1370.5,837.4 1372.5,838.0 1374.5,838.7 1376.5,839.3 1378.5,840.0 1380.5,840.6 1382.5,841.3 1384.5,842.0 1386.5,842.8 1388.5,843.5 1390.5,844.3 1392.5,845.0 1394.5,845.8 1396.5,846.6 1398.5,847.4 1400.5,848.2 1402.5,849.1 1404.5,849.9 1406.5,850.8 1408.5,851.7 1410.5,852.6 1412.5,853.5 1414.5,854.4 1416.5,855.4 1418.5,856.3 1420.5,857.3 1422.5,858.3 1424.5,859.3 1426.5,860.3 1428.5,861.3 1430.5,862.4 1432.5,863.4 1434.5,864.5 1436.5,865.6 1438.5,866.7 1440.5,867.8 1442.5,868.9 1444.5,870.0 1446.5,871.2 1448.5,872.4 1450.5,873.5 1452.5,874.7 1454.5,875.9 1456.5,877.1 1458.5,878.4 1460.5,879.6 1462.5,880.9 1464.5,882.1 1466.5,883.4 1468.5,884.7 1470.5,886.0 1472.5,887.3 1474.5,888.6 1476.5,890.0 1478.5,891.3 1480.5,892.7 1482.5,894.1 1484.5,895.4 1486.5,896.8 1488.5,898.2 1490.5,899.7 1492.5,901.1 1494.5,902.5 1496.5,904.0 1498.5,905.4 1500.5,906.9 1502.5,908.4 1504.5,909.8 1506.5,911.3 1508.5,912.8 1510.5,914.4 1512.5,915.9 1514.5,917.4 1516.5,919.0 1518.5,920.5 1520.5,922.1 1522.5,923.7 1524.5,925.2 1526.5,926.8 1528.5,928.4 1530.5,930.0 1532.5,931.6 1534.5,933.3 1536.5,934.9 1538.5,936.5 1540.5,938.2 1542.5,939.8 1544.5,941.5 1546.5,943.2 1548.5,944.9 1550.5,946.5 1552.5,948.2 1554.5,949.9 1556.5,951.6 1558.5,953.4 1560.5,955.1 1562.5,956.8 1564.5,958.5 1566.5,960.3 1568.5,962.0 1570.5,963.8 1572.5,965.5 1574.5,967.3 1576.5,969.1 1578.5,970.9 1580.5,972.6 1582.5,974.4 1584.5,976.2 1586.5,978.0 1588.5,979.8 1590.5,981.7 1592.5,983.5 1594.5,985.3 1596.5,987.1 1598.5,989.0 1600.5,990.8 1602.5,992.6 1604.5,994.5 1606.5,996.4 1608.5,998.2 1610.5,1000.1 1612.5,1002.0 1614.5,1003.8 1616.5,1005.7 1618.5,1007.6 1620.5,1009.5 1622.5,1011.4 1624.5,1013.3 1626.5,1015.3 1628.5,1017.2 1630.5,1019.1 1632.5,1021.0 1634.5,1023.0 1636.5,1024.9 1638.5,1026.9 1640.5,1028.9 1642.5,1030.8 1644.5,1032.8 1646.5,1034.8 1648.5,1036.8 1650.5,1038.8 1652.5,1040.8 1654.5,1042.8 1656.5,1044.8 1658.5,1046.8 1660.5,1048.8 1662.5,1050.9 1664.5,1052.9 1666.5,1055.0 1668.5,1057.0 1670.5,1059.1 1672.5,1061.2 1674.5,1063.3 1676.5,1065.3 1678.5,1067.4 1680.5,1069.5 1682.5,1071.6 1684.5,1073.7 1686.5,1075.8 1688.5,1077.9 1690.5,1080.0 1692.5,1082.1 1694.5,1084.2 1696.5,1086.4 1698.5,1088.5 1700.5,1090.6 1702.5,1092.7 1704.5,1094.8 1706.5,1096.9 1708.5,1099.0 1710.5,1101.1 1712.5,1103.2 1714.5,1105.2 1716.5,1107.3 1718.5,1109.4 1720.5,1111.5 1722.5,1113.5 1724.5,1115.6 1726.5,1117.6 1728.5,1119.6 1730.5,1121.7 1732.5,1123.7 1734.5,1125.7 1736.5,1127.7 1738.5,1129.7 1740.5,1131.6 1742.5,1133.6 1744.5,1135.5 1746.5,1137.5 1748.5,1139.4 1750.5,1141.3 1752.5,1143.2 1754.5,1145.1 1756.5,1146.9 1758.5,1148.8 1760.5,1150.6 1762.5,1152.4 1764.5,1154.2 1766.5,1156.0 1768.5,1157.8 1770.5,1159.6 1772.5,1161.3 1774.5,1163.1 1776.5,1164.8 1778.5,1166.5 1780.5,1168.2 1782.5,1169.9 1784.5,1171.6 1786.5,1173.2 1788.5,1174.9 1790.5,1176.5 1792.5,1178.1 1794.5,1179.8 1796.5,1181.4 1798.5,1183.0 1800.5,1184.5 1802.5,1186.1 1804.5,1187.7 1806.5,1189.2 1808.5,1190.8 1810.5,1192.3 1812.5,1193.8 1814.5,1195.3 1816.5,1196.8 1818.5,1198.3 1820.5,1199.8 1822.5,1201.2 1824.5,1202.7 1826.5,1204.2 1828.5,1205.6 1830.5,1207.0 1832.5,1208.4 1834.5,1209.8 1836.5,1211.2 1838.5,1212.6 1840.5,1214.0 1842.5,1215.4 1844.5,1216.8 1846.5,1218.1 1848.5,1219.4 1850.5,1220.8 1852.5,1222.1 1854.5,1223.4 1856.5,1224.7 1858.5,1226.0 1860.5,1227.3 1862.5,1228.6 1864.5,1229.8 1866.5,1231.1 1868.5,1232.3 1870.5,1233.5 1872.5,1234.7 1874.5,1236.0 1876.5,1237.2 1878.5,1238.3 1880.5,1239.5 1882.5,1240.7 1884.5,1241.8 1886.5,1243.0 1888.5,1244.1 1890.5,1245.2 1892.5,1246.3 1894.5,1247.4 1896.5,1248.5 1898.5,1249.6 1900.5,1250.6 1902.5,1251.7 1904.5,1252.7 1906.5,1253.7 1908.5,1254.7 1910.5,1255.7 1912.5,1256.7 1914.5,1257.7 1916.5,1258.7 1918.5,1259.6 1920.5,1260.6 1922.5,1261.5 1924.5,1262.4 1926.5,1263.3 1928.5,1264.2 1930.5,1265.1 1932.5,1266.0 1934.5,1266.8 1936.5,1267.7 1938.5,1268.5 1940.5,1269.3 1942.5,1270.2 1944.5,1271.0 1946.5,1271.8 1948.5,1272.6 1950.5,1273.3 1952.5,1274.1 1954.5,1274.9 1956.5,1275.6 1958.5,1276.4 1960.5,1277.1 1962.5,1277.8 1964.5,1278.5 1966.5,1279.2 1968.5,1279.9 1970.5,1280.6 1972.5,1281.3 1974.5,1282.0 1976.5,1282.6 1978.5,1283.3 1980.5,1283.9 1982.5,1284.5 1984.5,1285.2 1986.5,1285.8 1988.5,1286.4 1990.5,1287.0 1992.5,1287.6 1994.5,1288.1 1996.5,1288.7 1998.5,1289.3 2000.5,1289.8 2002.5,1290.4 2004.5,1290.9 2006.5,1291.5 2008.5,1292.0 2010.5,1292.5 2012.5,1293.0 2014.5,1293.6 2016.5,1294.1 2018.5,1294.5 2020.5,1295.0 2022.5,1295.5 2024.5,1296.0 2026.5,1296.4 2028.5,1296.9 2030.5,1297.4 2032.5,1297.8 2034.5,1298.2 2036.5,1298.7 2038.5,1299.1 2040.5,1299.5 2042.5,1299.9 2044.5,1300.3 2046.5,1300.7 2048.5,1301.1 2050.5,1301.5 2052.5,1301.9 2054.5,1302.3 2056.5,1302.6 2058.5,1303.0 2060.5,1303.4 2062.5,1303.7 2064.5,1304.1 2066.5,1304.4 2068.5,1304.7 2070.5,1305.1 2072.5,1305.4 2074.5,1305.7 2076.5,1306.0 2078.5,1306.3 2080.5,1306.6 2082.5,1306.9 2084.5,1307.2 2086.5,1307.5 2088.5,1307.8 2090.5,1308.1 2092.5,1308.3 2094.5,1308.6 2096.5,1308.9 2098.5,1309.1 2100.5,1309.4 2102.5,1309.6 2104.5,1309.8 2106.5,1310.1 2108.5,1310.3 2110.5,1310.5 2112.5,1310.7 2114.5,1310.9 2116.5,1311.1 2118.5,1311.3 2120.5,1311.5 2122.5,1311.7 2124.5,1311.9 2126.5,1312.1 2128.5,1312.2 2130.5,1312.4 2132.5,1312.6 2134.5,1312.7 2136.5,1312.9 2138.5,1313.0 2140.5,1313.1 2142.5,1313.3 2144.5,1313.4 2146.5,1313.5 2148.5,1313.6 2150.5,1313.7 2152.5,1313.8 2154.5,1313.9 2156.5,1314.0 2158.5,1314.1 2160.5,1314.2 2162.5,1314.3 2164.5,1314.3 2166.5,1314.4 2168.5,1314.4 2170.5,1314.5 2172.5,1314.5 2174.5,1314.6 2176.5,1314.6 2178.5,1314.6 2180.5,1314.6 2182.5,1314.7 2184.5,1314.7 2186.5,1314.7 2188.5,1314.7 2190.5,1314.7" stroke="#0000ff"/>
</g>
<g stroke="#000" stroke-width="5" fill="none" stroke-linecap="butt">
<rect x="288.5" y="50.5" width="1902.3000000000002" height="1274.0"/>
<line x1="288.5" y1="1324.5" x2="288.5" y2="1339.5"/>
<line x1="605.6" y1="1324.5" x2="605.6" y2="1352"/>
<line x1="922.6" y1="1324.5" x2="922.6" y2="1339.5"/>
<line x1="1239.7" y1="1324.5" x2="1239.7" y2="1352"/>
<line x1="1556.7" y1="1324.5" x2="1556.7" y2="1339.5"/>
<line x1="1873.8" y1="1324.5" x2="1873.8" y2="1352"/>
<line x1="2190.8" y1="1324.5" x2="2190.8" y2="1339.5"/>
<line x1="260.5" y1="1324.5" x2="288.5" y2="1324.5"/>
<line x1="260.5" y1="1112.2" x2="288.5" y2="1112.2"/>
<line x1="260.5" y1="899.8" x2="288.5" y2="899.8"/>
<line x1="260.5" y1="687.5" x2="288.5" y2="687.5"/>
<line x1="260.5" y1="475.2" x2="288.5" y2="475.2"/>
<line x1="260.5" y1="262.8" x2="288.5" y2="262.8"/>
<line x1="260.5" y1="50.5" x2="288.5" y2="50.5"/>
</g>
<g font-size="69">
<text transform="translate(604.1,1421.3) scale(1,1.0)" text-anchor="middle">400</text>
<text transform="translate(1238.2,1421.3) scale(1,1.0)" text-anchor="middle">500</text>
<text transform="translate(1872.3,1421.3) scale(1,1.0)" text-anchor="middle">600</text>
<text transform="translate(243.5,1342.4) scale(1,1.0)" text-anchor="end">0</text>
<text transform="translate(243.5,1130.1) scale(1,1.0)" text-anchor="end">10</text>
<text transform="translate(243.5,917.7) scale(1,1.0)" text-anchor="end">20</text>
<text transform="translate(243.5,705.4) scale(1,1.0)" text-anchor="end">30</text>
<text transform="translate(243.5,493.1) scale(1,1.0)" text-anchor="end">40</text>
<text transform="translate(243.5,280.7) scale(1,1.0)" text-anchor="end">50</text>
<text transform="translate(243.5,68.4) scale(1,1.0)" text-anchor="end">60</text>
</g>
<text transform="translate(938.6,1545.9) scale(1,1.02)" font-size="80.7">Wavelength / nm</text>
<text transform="translate(97,1214.6) rotate(-90)" font-size="80.35">Extinction Coefficient / mM<tspan font-size="48.6" dy="-43">-1</tspan><tspan dy="43"> cm</tspan><tspan font-size="48.6" dy="-43">-1</tspan></text>
<g font-size="68">
<line x1="1917" y1="88.0" x2="2071" y2="88.0" stroke="#ff0000" stroke-width="6.5" stroke-linecap="round"/>
<text transform="translate(2090,110.8) scale(1,1.03)">1A</text>
<line x1="1917" y1="172.5" x2="2071" y2="172.5" stroke="#008000" stroke-width="6.5" stroke-linecap="round"/>
<text transform="translate(2090,195.3) scale(1,1.03)">2A</text>
<line x1="1917" y1="257.1" x2="2071" y2="257.1" stroke="#0000ff" stroke-width="6.5" stroke-linecap="round"/>
<text transform="translate(2090,279.9) scale(1,1.03)">3A</text>
<line x1="1917" y1="341.6" x2="2071" y2="341.6" stroke="#000000" stroke-width="6.5" stroke-linecap="round"/>
<text transform="translate(2090,364.4) scale(1,1.03)">4A</text>
<line x1="1917" y1="426.2" x2="2071" y2="426.2" stroke="#ff00ff" stroke-width="6.5" stroke-linecap="round"/>
<text transform="translate(2090,449.0) scale(1,1.03)">1B</text>
<line x1="1917" y1="510.7" x2="2071" y2="510.7" stroke="#00ff00" stroke-width="6.5" stroke-linecap="round"/>
<text transform="translate(2090,533.5) scale(1,1.03)">2B</text>
<line x1="1917" y1="595.2" x2="2071" y2="595.2" stroke="#00ffff" stroke-width="6.5" stroke-linecap="round"/>
<text transform="translate(2090,618.0) scale(1,1.03)">3B</text>
<line x1="1917" y1="679.8" x2="2071" y2="679.8" stroke="#808080" stroke-width="6.5" stroke-linecap="round"/>
<text transform="translate(2090,702.6) scale(1,1.03)">4B</text>
</g>
</svg></body></html>
